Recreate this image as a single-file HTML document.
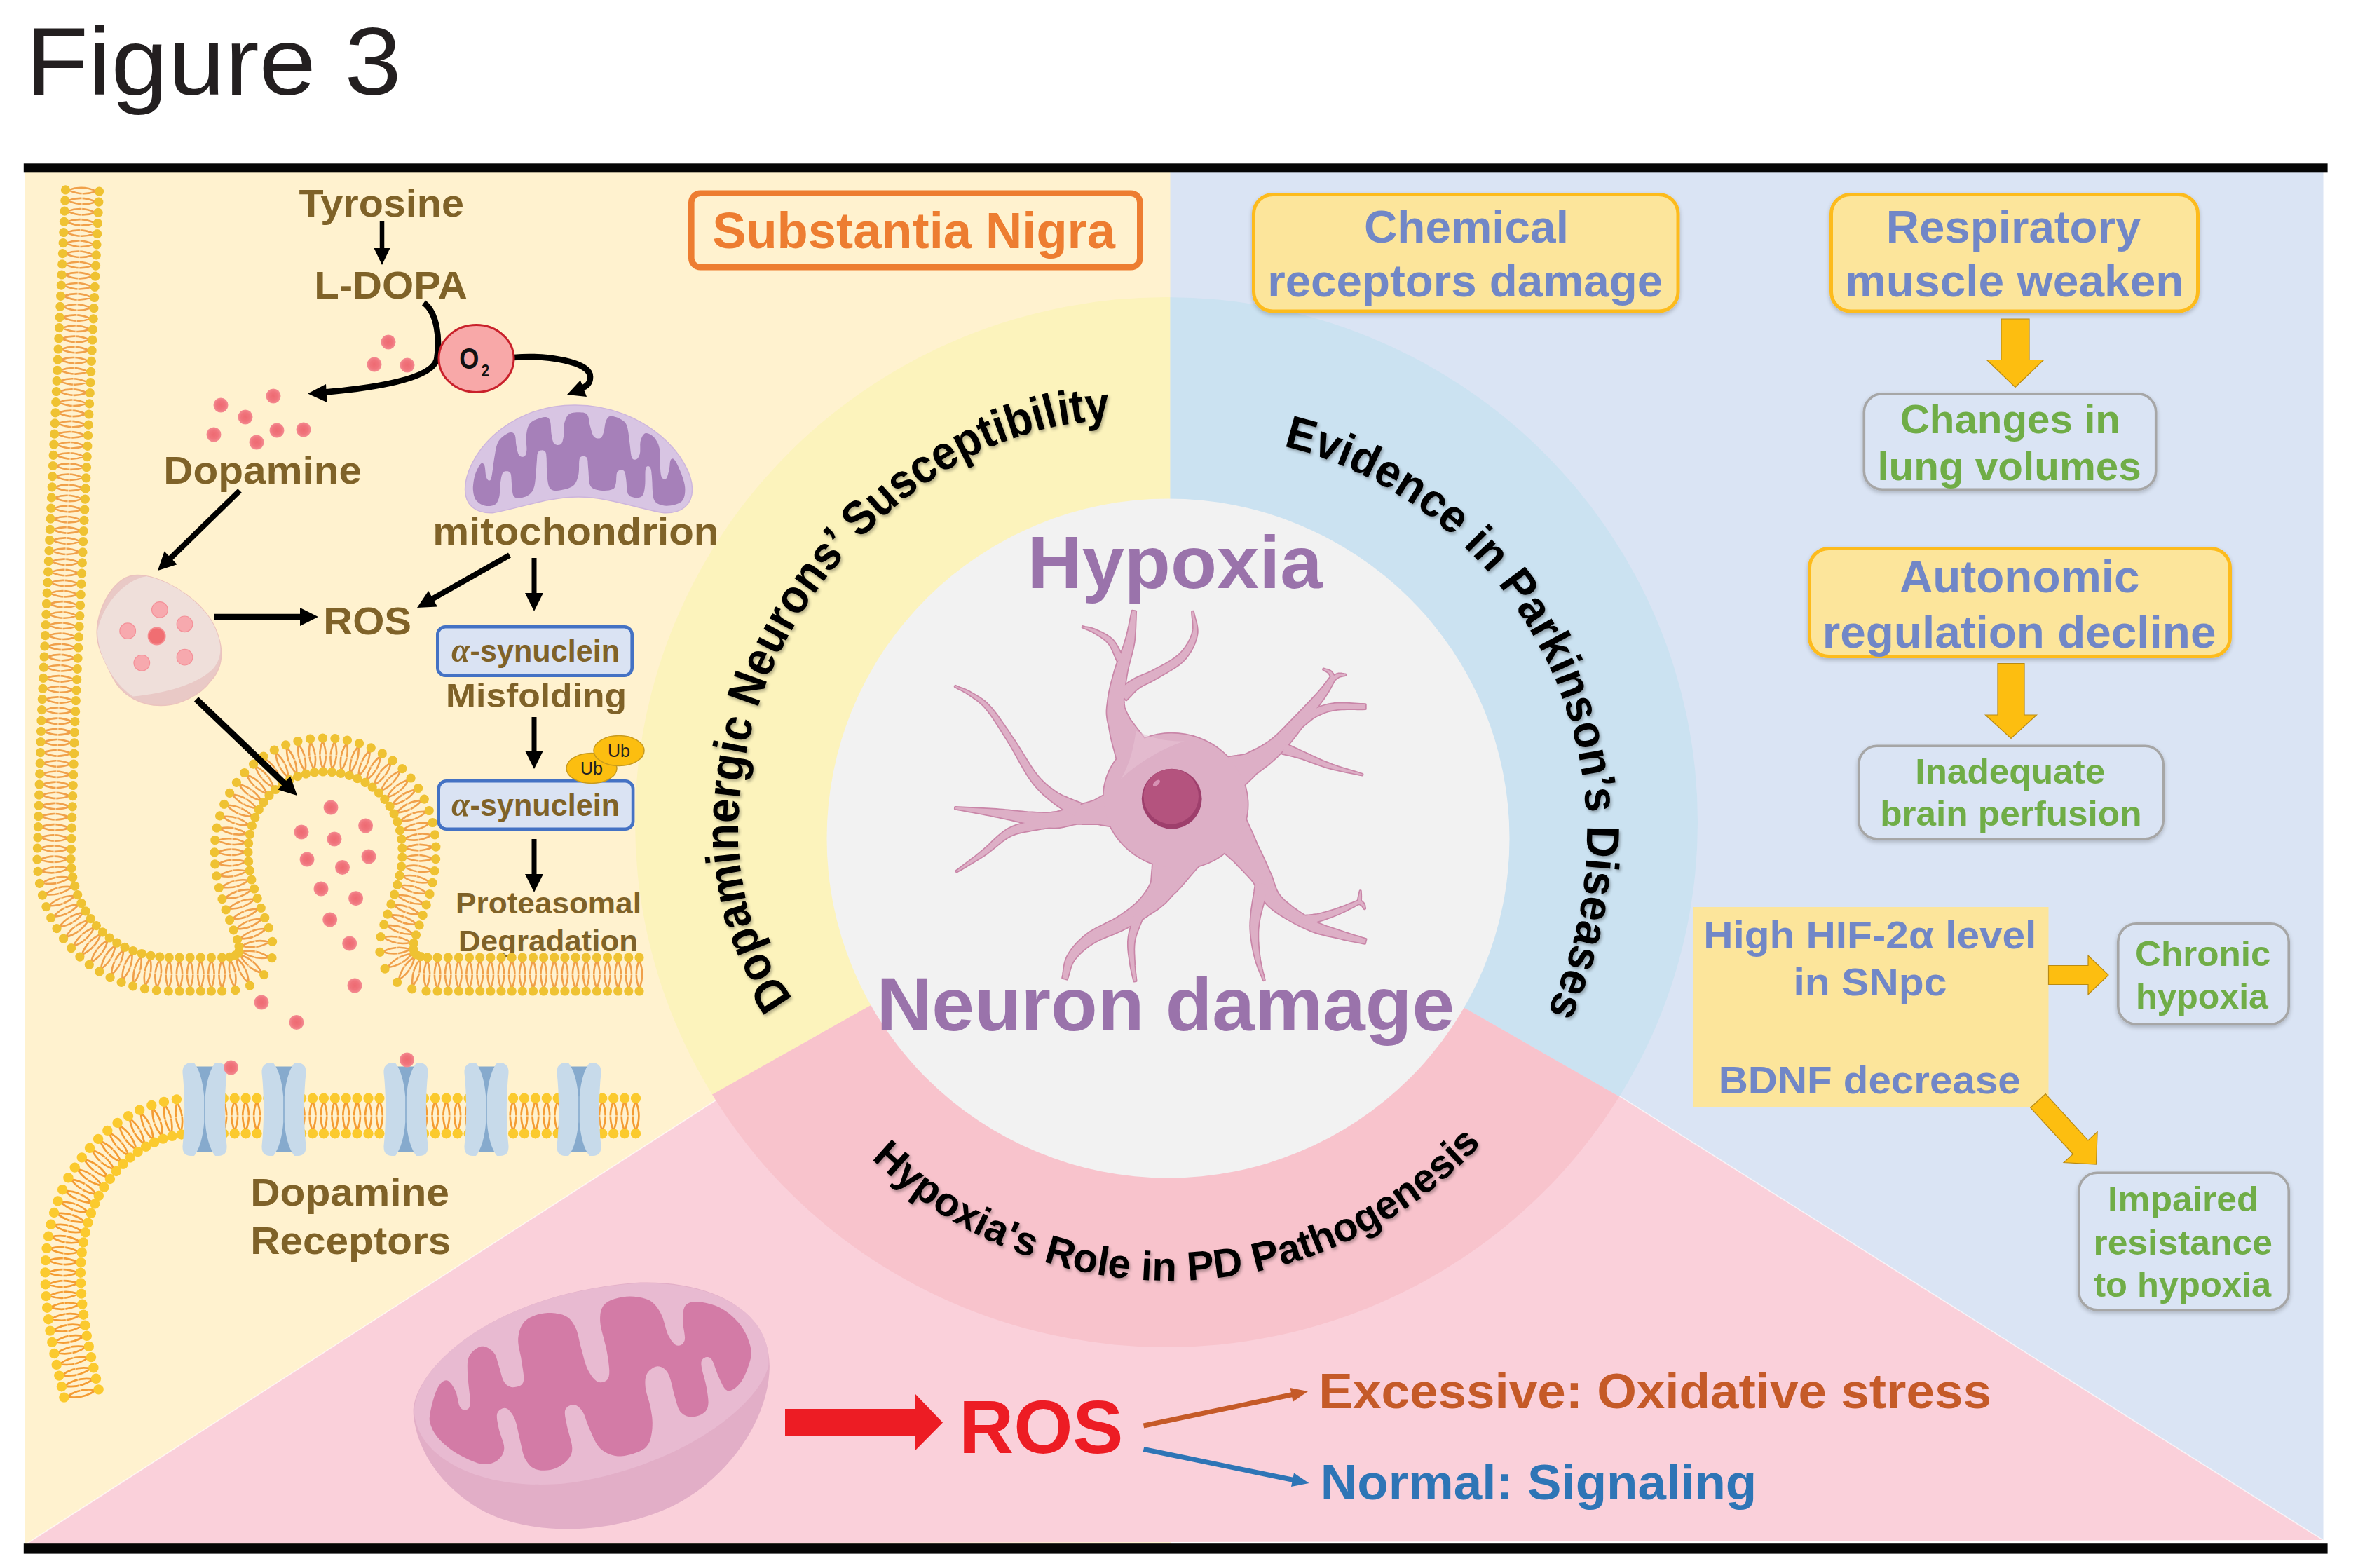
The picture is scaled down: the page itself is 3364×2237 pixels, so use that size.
<!DOCTYPE html>
<html><head><meta charset="utf-8"><title>Figure 3</title>
<style>html,body{margin:0;padding:0;background:#fff}svg{display:block}text{font-family:"Liberation Sans",sans-serif}</style>
</head><body>
<svg width="3364" height="2237" viewBox="0 0 3364 2237">
<rect x="36" y="240" width="1634" height="1963" fill="#FFF2CF"/>
<rect x="1669.5" y="240" width="1645" height="1957" fill="#DAE4F4"/>
<polygon points="1664,1156 37,2203 3314,2197" fill="#FAD0DA"/>
<path d="M37 2203L1664 1156L3314 2197" fill="none" stroke="#fff" stroke-opacity=".65" stroke-width="1.6"/>
<defs><clipPath id="ringclip"><ellipse cx="1664" cy="1173" rx="758" ry="749"/></clipPath></defs>
<g clip-path="url(#ringclip)">
<polygon points="1669.5,1196 1669.5,-500 -500,-500 -500,2413.7 1666,1196" fill="#FCF3BC"/>
<polygon points="1669.5,1196 1669.5,-500 4000,-500 4000,2531 1666,1196" fill="#CBE2F1"/>
<polygon points="1666,1196 -500,2413.7 -500,3000 4000,3000 4000,2531" fill="#F8C3CC"/>
</g>
<ellipse cx="1666.5" cy="1196" rx="487" ry="484.5" fill="#F2F2F2"/>
<rect x="33.8" y="233.3" width="3286.8" height="13" fill="#050505"/>
<rect x="33.8" y="2202.2" width="3286.8" height="14.4" fill="#050505"/>
<text x="36.8" y="134.7" font-size="138" fill="#231F20"  textLength="535.9" lengthAdjust="spacingAndGlyphs" >Figure 3</text>
<text x="426.4" y="309" font-size="55" fill="#7F6228" font-weight="bold" textLength="235.5" lengthAdjust="spacingAndGlyphs" >Tyrosine</text>
<text x="448.2" y="426" font-size="56" fill="#7F6228" font-weight="bold" textLength="218.5" lengthAdjust="spacingAndGlyphs" >L-DOPA</text>
<text x="233.2" y="690" font-size="56" fill="#7F6228" font-weight="bold" textLength="282.8" lengthAdjust="spacingAndGlyphs" >Dopamine</text>
<text x="617.2" y="777" font-size="56" fill="#7F6228" font-weight="bold" textLength="408.2" lengthAdjust="spacingAndGlyphs" >mitochondrion</text>
<text x="461.2" y="905" font-size="56" fill="#7F6228" font-weight="bold" textLength="125.9" lengthAdjust="spacingAndGlyphs" >ROS</text>
<text x="636.1" y="1009.4" font-size="48" fill="#7F6228" font-weight="bold" textLength="257.8" lengthAdjust="spacingAndGlyphs" >Misfolding</text>
<text x="650.1" y="1303" font-size="42" fill="#7F6228" font-weight="bold" textLength="264.8" lengthAdjust="spacingAndGlyphs" >Proteasomal</text>
<text x="654.1" y="1357" font-size="42" fill="#7F6228" font-weight="bold" textLength="255.9" lengthAdjust="spacingAndGlyphs" >Degradation</text>
<text x="357.2" y="1720" font-size="56" fill="#7F6228" font-weight="bold" textLength="283.8" lengthAdjust="spacingAndGlyphs" >Dopamine</text>
<text x="357.2" y="1789" font-size="56" fill="#7F6228" font-weight="bold" textLength="286.2" lengthAdjust="spacingAndGlyphs" >Receptors</text>
<text x="1016.2" y="354.1" font-size="72" fill="#ED7D31" font-weight="bold" textLength="574.8" lengthAdjust="spacingAndGlyphs" >Substantia Nigra</text>
<rect x="986.3" y="275.7" width="640" height="105.5" rx="13" fill="none" stroke="#ED7D31" stroke-width="8.6"/>
<defs><filter id="bs" x="-5%" y="-10%" width="110%" height="125%"><feGaussianBlur in="SourceAlpha" stdDeviation="3"/><feOffset dx="0" dy="3"/><feComponentTransfer><feFuncA type="linear" slope=".22"/></feComponentTransfer><feMerge><feMergeNode/><feMergeNode in="SourceGraphic"/></feMerge></filter></defs>
<rect x="1788.5" y="277.5" width="605.5" height="166.5" rx="27.5" fill="#FCE59B" stroke="#FDBB1E" stroke-width="5" filter="url(#bs)"/>
<rect x="2612.5" y="277.5" width="523" height="166.5" rx="27.5" fill="#FCE59B" stroke="#FDBB1E" stroke-width="5" filter="url(#bs)"/>
<rect x="2581.5" y="782.5" width="600" height="154" rx="27.5" fill="#FCE59B" stroke="#FDBB1E" stroke-width="5" filter="url(#bs)"/>
<rect x="2659.3" y="561.8" width="416.4" height="136.4" rx="26" fill="#DAE4F4" stroke="#A6A6A6" stroke-width="3.6" filter="url(#bs)"/>
<rect x="2651.8" y="1064.3" width="434.4" height="132.4" rx="26" fill="#DAE4F4" stroke="#A6A6A6" stroke-width="3.6" filter="url(#bs)"/>
<rect x="3021.8" y="1317.8" width="243.4" height="143.4" rx="26" fill="#DAE4F4" stroke="#A6A6A6" stroke-width="3.6" filter="url(#bs)"/>
<rect x="2965.8" y="1673.3" width="299.4" height="195.4" rx="26" fill="#DAE4F4" stroke="#A6A6A6" stroke-width="3.6" filter="url(#bs)"/>
<rect x="2415" y="1294" width="507.5" height="286" fill="#FCE59B"/>
<text x="1945.9" y="346" font-size="64" fill="#7187C7" font-weight="bold" textLength="292" lengthAdjust="spacingAndGlyphs" >Chemical</text>
<text x="1808.2" y="422.5" font-size="64" fill="#7187C7" font-weight="bold" textLength="564" lengthAdjust="spacingAndGlyphs" >receptors damage</text>
<text x="2690.7" y="346" font-size="64" fill="#7187C7" font-weight="bold" textLength="363.8" lengthAdjust="spacingAndGlyphs" >Respiratory</text>
<text x="2632.2" y="422.5" font-size="64" fill="#7187C7" font-weight="bold" textLength="483.4" lengthAdjust="spacingAndGlyphs" >muscle weaken</text>
<text x="2709.9" y="845" font-size="64" fill="#7187C7" font-weight="bold" textLength="342.7" lengthAdjust="spacingAndGlyphs" >Autonomic</text>
<text x="2599.7" y="923.5" font-size="64" fill="#7187C7" font-weight="bold" textLength="561.7" lengthAdjust="spacingAndGlyphs" >regulation decline</text>
<text x="2430.2" y="1352.5" font-size="56" fill="#7187C7" font-weight="bold" textLength="475.2" lengthAdjust="spacingAndGlyphs" >High HIF-2α level</text>
<text x="2558.4" y="1420" font-size="56" fill="#7187C7" font-weight="bold" textLength="219" lengthAdjust="spacingAndGlyphs" >in SNpc</text>
<text x="2451.7" y="1560" font-size="56" fill="#7187C7" font-weight="bold" textLength="431" lengthAdjust="spacingAndGlyphs" >BDNF decrease</text>
<text x="2710.7" y="617.5" font-size="57" fill="#70AD47" font-weight="bold" textLength="314.3" lengthAdjust="spacingAndGlyphs" >Changes in</text>
<text x="2678.4" y="685" font-size="57" fill="#70AD47" font-weight="bold" textLength="376.4" lengthAdjust="spacingAndGlyphs" >lung volumes</text>
<text x="2732.2" y="1117.5" font-size="50" fill="#70AD47" font-weight="bold" textLength="271.1" lengthAdjust="spacingAndGlyphs" >Inadequate</text>
<text x="2682.2" y="1177.5" font-size="50" fill="#70AD47" font-weight="bold" textLength="373.3" lengthAdjust="spacingAndGlyphs" >brain perfusion</text>
<text x="3045.9" y="1377.5" font-size="50" fill="#70AD47" font-weight="bold" textLength="193.7" lengthAdjust="spacingAndGlyphs" >Chronic</text>
<text x="3047" y="1438.5" font-size="50" fill="#70AD47" font-weight="bold" textLength="188.9" lengthAdjust="spacingAndGlyphs" >hypoxia</text>
<text x="3007.1" y="1727.5" font-size="50" fill="#70AD47" font-weight="bold" textLength="215.4" lengthAdjust="spacingAndGlyphs" >Impaired</text>
<text x="2986.6" y="1789.6" font-size="50" fill="#70AD47" font-weight="bold" textLength="255.3" lengthAdjust="spacingAndGlyphs" >resistance</text>
<text x="2987.2" y="1849.5" font-size="50" fill="#70AD47" font-weight="bold" textLength="252.9" lengthAdjust="spacingAndGlyphs" >to hypoxia</text>
<text x="1368" y="2072.5" font-size="107" fill="#ED1C24" font-weight="bold" textLength="234.5" lengthAdjust="spacingAndGlyphs" >ROS</text>
<text x="1881.3" y="2009" font-size="70" fill="#C55A28" font-weight="bold" textLength="959.7" lengthAdjust="spacingAndGlyphs" >Excessive: Oxidative stress</text>
<text x="1883.8" y="2138.5" font-size="70" fill="#2E75B6" font-weight="bold" textLength="622.5" lengthAdjust="spacingAndGlyphs" >Normal: Signaling</text>
<path d="M97.5 271.1Q117.1 280.4 137.5 272.9M97.5 271.1Q117.9 263.6 137.5 272.9M96.8 286.2Q116.4 295.5 136.8 288.1M96.8 286.2Q117.2 278.7 136.8 288.1M96.1 301.4Q115.7 310.7 136.1 303.2M96.1 301.4Q116.5 293.9 136.1 303.2M95.4 316.5Q115 325.8 135.4 318.3M95.4 316.5Q115.8 309 135.4 318.3M94.8 331.6Q114.3 340.9 134.7 333.5M94.8 331.6Q115.1 324.2 134.7 333.5M94.1 346.8Q113.7 356.1 134 348.6M94.1 346.8Q114.4 339.3 134 348.6M93.4 361.9Q113 371.2 133.3 363.7M93.4 361.9Q113.7 354.4 133.3 363.7M92.7 377.1Q112.3 386.4 132.6 378.9M92.7 377.1Q113 369.6 132.6 378.9M92 392.2Q111.6 401.5 131.9 394M92 392.2Q112.3 384.7 131.9 394M91.3 407.3Q110.9 416.6 131.3 409.2M91.3 407.3Q111.7 399.9 131.3 409.2M90.6 422.5Q110.2 431.8 130.6 424.3M90.6 422.5Q111 415 130.6 424.3M89.9 437.6Q109.5 446.9 129.9 439.4M89.9 437.6Q110.3 430.1 129.9 439.4M89.2 452.7Q108.8 462.1 129.2 454.6M89.2 452.7Q109.6 445.3 129.2 454.6M88.5 467.9Q108.1 477.2 128.5 469.7M88.5 467.9Q108.9 460.4 128.5 469.7M87.8 483Q107.4 492.3 127.8 484.8M87.8 483Q108.2 475.5 127.8 484.8M87.1 498.2Q106.7 507.5 127.1 500M87.1 498.2Q107.5 490.7 127.1 500M86.5 513.3Q106 522.6 126.4 515.1M86.5 513.3Q106.8 505.8 126.4 515.1M85.8 528.4Q105.4 537.7 125.7 530.3M85.8 528.4Q106.1 521 125.7 530.3M85.1 543.6Q104.7 552.9 125 545.4M85.1 543.6Q105.4 536.1 125 545.4M84.4 558.7Q104 568 124.3 560.5M84.4 558.7Q104.7 551.2 124.3 560.5M83.7 573.9Q103.3 583.2 123.6 575.7M83.7 573.9Q104 566.4 123.6 575.7M83 589Q102.6 598.3 123 590.8M83 589Q103.4 581.5 123 590.8M82.3 604.1Q101.9 613.4 122.3 606M82.3 604.1Q102.7 596.7 122.3 606M81.6 619.3Q101.2 628.6 121.6 621.1M81.6 619.3Q102 611.8 121.6 621.1M80.9 634.4Q100.5 643.7 120.9 636.2M80.9 634.4Q101.3 626.9 120.9 636.2M80.2 649.5Q99.8 658.8 120.2 651.4M80.2 649.5Q100.6 642.1 120.2 651.4M79.5 664.7Q99.1 674 119.5 666.5M79.5 664.7Q99.9 657.2 119.5 666.5M78.8 679.8Q98.4 689.1 118.8 681.6M78.8 679.8Q99.2 672.3 118.8 681.6M78.2 695Q97.7 704.3 118.1 696.8M78.2 695Q98.5 687.5 118.1 696.8M77.5 710.1Q97.1 719.4 117.4 711.9M77.5 710.1Q97.8 702.6 117.4 711.9M76.8 725.2Q96.4 734.5 116.7 727.1M76.8 725.2Q97.1 717.8 116.7 727.1M76.1 740.4Q95.7 749.7 116 742.2M76.1 740.4Q96.4 732.9 116 742.2M75.4 755.5Q95 764.8 115.3 757.3M75.4 755.5Q95.7 748 115.3 757.3M74.7 770.7Q94.3 780 114.7 772.5M74.7 770.7Q95.1 763.2 114.7 772.5M74 785.8Q93.6 795.1 114 787.6M74 785.8Q94.4 778.3 114 787.6M73.3 800.9Q92.9 810.2 113.3 802.8M73.3 800.9Q93.7 793.4 113.3 802.8M72.6 816.1Q92.2 825.4 112.6 817.9M72.6 816.1Q93 808.6 112.6 817.9M71.9 831.2Q91.5 840.5 111.9 833M71.9 831.2Q92.3 823.7 111.9 833M71.2 846.3Q90.8 855.6 111.2 848.2M71.2 846.3Q91.6 838.9 111.2 848.2M70.5 861.5Q90.1 870.8 110.5 863.3M70.5 861.5Q90.9 854 110.5 863.3M69.9 876.6Q89.4 885.9 109.8 878.4M69.9 876.6Q90.2 869.1 109.8 878.4M69.2 891.8Q88.8 901.1 109.1 893.6M69.2 891.8Q89.5 884.3 109.1 893.6M68.5 906.9Q88.1 916.2 108.4 908.7M68.5 906.9Q88.8 899.4 108.4 908.7M67.8 922Q87.4 931.3 107.7 923.9M67.8 922Q88.1 914.6 107.7 923.9M67.1 937.2Q86.7 946.5 107 939M67.1 937.2Q87.4 929.7 107 939M66.4 952.3Q86 961.6 106.4 954.1M66.4 952.3Q86.8 944.8 106.4 954.1M65.7 967.4Q85.3 976.8 105.7 969.3M65.7 967.4Q86.1 960 105.7 969.3M65 982.6Q84.6 991.9 105 984.4M65 982.6Q85.4 975.1 105 984.4M64.3 997.7Q83.9 1007 104.3 999.6M64.3 997.7Q84.7 990.2 104.3 999.6M63.6 1012.9Q83.2 1022.2 103.6 1014.7M63.6 1012.9Q84 1005.4 103.6 1014.7M63 1028.3Q82.7 1037.3 102.9 1029.5M63 1028.3Q83.2 1020.5 102.9 1029.5M62.5 1043.5Q82.2 1052.5 102.5 1044.7M62.5 1043.5Q82.7 1035.7 102.5 1044.7M62 1058.6Q81.8 1067.6 102 1059.8M62 1058.6Q82.3 1050.8 102 1059.8M61.6 1073.8Q81.3 1082.8 101.6 1075M61.6 1073.8Q81.8 1066 101.6 1075M61.1 1088.9Q80.9 1097.9 101.1 1090.1M61.1 1088.9Q81.4 1081.1 101.1 1090.1M60.7 1104Q80.4 1113 100.6 1105.3M60.7 1104Q80.9 1096.3 100.6 1105.3M60.2 1119.2Q79.9 1128.2 100.2 1120.4M60.2 1119.2Q80.4 1111.4 100.2 1120.4M59.7 1134.3Q79.5 1143.3 99.7 1135.6M59.7 1134.3Q80 1126.6 99.7 1135.6M59.3 1149.5Q79 1158.5 99.3 1150.7M59.3 1149.5Q79.5 1141.7 99.3 1150.7M58.8 1164.6Q78.6 1173.6 98.8 1165.8M58.8 1164.6Q79.1 1156.8 98.8 1165.8M58.4 1179.8Q78.1 1188.8 98.3 1181M58.4 1179.8Q78.6 1172 98.3 1181M57.9 1194.9Q77.6 1203.9 97.9 1196.1M57.9 1194.9Q78.1 1187.1 97.9 1196.1M57.4 1210.1Q77.2 1219.1 97.4 1211.3M57.4 1210.1Q77.7 1202.3 97.4 1211.3M57 1226.1Q77.1 1234.2 97 1225.6M57 1226.1Q76.9 1217.4 97 1225.6M58 1243Q78.8 1249.3 97.8 1238.9M58 1243Q77.1 1232.6 97.8 1238.9M60.4 1259.7Q81.7 1264.2 99.7 1252.2M60.4 1259.7Q78.5 1247.7 99.7 1252.2M64.3 1276.1Q85.8 1278.8 102.8 1265.3M64.3 1276.1Q81.3 1262.6 102.8 1265.3M69.6 1292.2Q91.3 1292.9 107 1278M69.6 1292.2Q85.3 1277.2 107 1278M76.3 1307.7Q98 1306.5 112.3 1290.3M76.3 1307.7Q90.6 1291.4 112.3 1290.3M84.4 1322.6Q105.9 1319.5 118.7 1302M84.4 1322.6Q97.2 1305.1 118.7 1302M93.8 1336.8Q114.9 1331.7 126 1313M93.8 1336.8Q105 1318.1 126 1313M104.6 1350Q125.1 1342.9 134.4 1323.3M104.6 1350Q113.9 1330.4 134.4 1323.3M116.6 1362.1Q136.3 1353.1 143.7 1332.7M116.6 1362.1Q124 1341.7 143.7 1332.7M129.7 1373.1Q148.5 1362.2 153.8 1341.2M129.7 1373.1Q135.1 1352.1 153.8 1341.2M143.8 1382.7Q161.4 1370.1 164.7 1348.6M143.8 1382.7Q147.1 1361.3 164.7 1348.6M158.8 1390.9Q175.1 1376.6 176.3 1355M158.8 1390.9Q160 1369.3 176.3 1355M174.5 1397.7Q189.4 1381.9 188.5 1360.2M174.5 1397.7Q173.6 1376 188.5 1360.2M190.6 1402.9Q204 1385.8 201.2 1364.3M190.6 1402.9Q187.8 1381.4 201.2 1364.3M207.1 1406.6Q218.9 1388.5 214.2 1367.3M207.1 1406.6Q202.4 1385.5 214.2 1367.3M223.7 1409Q234 1389.9 227.6 1369.2M223.7 1409Q217.3 1388.2 227.6 1369.2M240.4 1409.9Q249.2 1390.1 241.2 1370M240.4 1409.9Q232.4 1389.8 241.2 1370M256 1410Q264.4 1390 256 1370M256 1410Q247.6 1390 256 1370M271.1 1410Q279.5 1390 271.1 1370M271.1 1410Q262.7 1390 271.1 1370M286.3 1410Q294.7 1390 286.3 1370M286.3 1410Q277.9 1390 286.3 1370M301.4 1410Q309.8 1390 301.4 1370M301.4 1410Q293 1390 301.4 1370M316.6 1410Q325 1390 316.6 1370M316.6 1410Q308.2 1390 316.6 1370M335 1408.6Q339.9 1387.5 328.3 1369.2M335 1408.6Q323.4 1390.3 328.3 1369.2M354.8 1402.5Q353.7 1380.9 337.5 1366.5M354.8 1402.5Q338.5 1388.1 337.5 1366.5M373.5 1388.2Q363.5 1368.9 342.7 1362.6M373.5 1388.2Q352.7 1381.9 342.7 1362.6M384.1 1365.9Q366.2 1353.6 344.9 1357.8M384.1 1365.9Q362.8 1370.1 344.9 1357.8M384.6 1344Q363.6 1338.5 345 1349.6M384.6 1344Q366 1355.1 345 1349.6M379.6 1325Q357.9 1324.3 342.2 1339.3M379.6 1325Q363.9 1340 342.2 1339.3M374.1 1310.7Q352.4 1310.2 336.8 1325.3M374.1 1310.7Q358.5 1325.9 336.8 1325.3M368.6 1296.7Q346.9 1296.1 331.3 1311.1M368.6 1296.7Q353 1311.7 331.3 1311.1M363.4 1282.9Q341.8 1281.8 325.8 1296.5M363.4 1282.9Q347.5 1297.6 325.8 1296.5M358.8 1269.4Q337.2 1267.4 320.7 1281.4M358.8 1269.4Q342.3 1283.4 320.7 1281.4M355 1256Q333.6 1252.6 316.2 1265.6M355 1256Q337.6 1269 316.2 1265.6M352.3 1242.7Q331.1 1237.7 312.8 1249.3M352.3 1242.7Q333.9 1254.2 312.8 1249.3M350.6 1229.3Q330 1222.6 310.7 1232.6M350.6 1229.3Q331.4 1239.3 310.7 1232.6M350 1215.7Q330 1207.4 310 1215.9M350 1215.7Q330 1224.2 310 1215.9M350.6 1202.5Q331.4 1192.3 310.7 1198.8M350.6 1202.5Q329.9 1209 310.7 1198.8M352.4 1189.5Q334.4 1177.4 313.2 1181.8M352.4 1189.5Q331.2 1193.9 313.2 1181.8M355.6 1176.9Q339 1162.9 317.4 1165.1M355.6 1176.9Q334 1179 317.4 1165.1M360.1 1164.7Q345.1 1149.1 323.4 1148.8M360.1 1164.7Q338.4 1164.5 323.4 1148.8M365.9 1153.1Q352.6 1135.9 331.1 1133.3M365.9 1153.1Q344.3 1150.5 331.1 1133.3M372.9 1142.3Q361.7 1123.7 340.6 1118.7M372.9 1142.3Q351.8 1137.3 340.6 1118.7M381 1132.4Q372 1112.6 351.6 1105.2M381 1132.4Q360.6 1125 351.6 1105.2M390.3 1123.5Q383.6 1102.8 364.2 1093.1M390.3 1123.5Q370.9 1113.8 364.2 1093.1M400.5 1115.7Q396.3 1094.4 378.1 1082.5M400.5 1115.7Q382.3 1103.8 378.1 1082.5M411.5 1109.2Q409.8 1087.5 393.2 1073.6M411.5 1109.2Q394.8 1095.2 393.2 1073.6M423.2 1104Q424 1082.3 409.1 1066.5M423.2 1104Q408.3 1088.2 409.1 1066.5M435.4 1100.2Q438.8 1078.8 425.9 1061.4M435.4 1100.2Q422.5 1082.8 425.9 1061.4M448 1097.9Q453.9 1077 443 1058.2M448 1097.9Q437.2 1079.1 443 1058.2M460.8 1097Q469 1076.9 460.4 1057M460.8 1097Q452.2 1077.1 460.4 1057M474 1097.5Q484.1 1078.4 477.6 1057.7M474 1097.5Q467.4 1076.9 477.6 1057.7M486.9 1099.4Q499 1081.4 494.6 1060.1M486.9 1099.4Q482.5 1078.1 494.6 1060.1M499.5 1102.6Q513.5 1086 511.4 1064.4M499.5 1102.6Q497.4 1081 511.4 1064.4M511.6 1107.1Q527.3 1092.2 527.7 1070.5M511.6 1107.1Q512 1085.4 527.7 1070.5M523 1112.9Q540.4 1099.9 543.2 1078.4M523 1112.9Q525.9 1091.4 543.2 1078.4M533.6 1120.1Q552.4 1109.2 557.8 1088.2M533.6 1120.1Q539 1099 557.8 1088.2M543.3 1128.4Q563.2 1119.8 571.1 1099.6M543.3 1128.4Q551.2 1108.1 571.1 1099.6M551.9 1137.8Q572.8 1131.6 583 1112.5M551.9 1137.8Q562.1 1118.6 583 1112.5M559.5 1148.2Q580.8 1144.5 593.2 1126.6M559.5 1148.2Q571.8 1130.3 593.2 1126.6M565.7 1159.4Q587.4 1158.2 601.7 1141.9M565.7 1159.4Q580 1143.1 601.7 1141.9M570.7 1171.3Q592.4 1172.5 608.4 1157.9M570.7 1171.3Q586.8 1156.7 608.4 1157.9M574.4 1183.8Q595.8 1187.3 613.3 1174.5M574.4 1183.8Q591.9 1170.9 613.3 1174.5M576.8 1196.7Q597.7 1202.3 616.4 1191.4M576.8 1196.7Q595.5 1185.7 616.4 1191.4M577.9 1209.8Q598.2 1217.5 617.9 1208.4M577.9 1209.8Q597.6 1200.7 617.9 1208.4M577.8 1223.2Q597.3 1232.6 617.7 1225.3M577.8 1223.2Q598.2 1215.9 617.7 1225.3M576.5 1236.5Q595.1 1247.6 616.1 1242.1M576.5 1236.5Q597.4 1231 616.1 1242.1M574 1250Q591.8 1262.4 613.1 1258.5M574 1250Q595.4 1246 613.1 1258.5M570.6 1263.5Q587.6 1277 609.1 1274.4M570.6 1263.5Q592.1 1260.8 609.1 1274.4M566.4 1277.2Q582.8 1291.4 604.4 1289.6M566.4 1277.2Q588 1275.4 604.4 1289.6M561.7 1291.2Q577.8 1305.7 599.4 1304.4M561.7 1291.2Q583.3 1289.8 599.4 1304.4M556.6 1305.5Q572.8 1320 594.4 1318.6M556.6 1305.5Q578.3 1304.1 594.4 1318.6M551.7 1320.3Q568.1 1334.4 589.7 1332.6M551.7 1320.3Q573.3 1318.4 589.7 1332.6M547 1337.3Q565.1 1349.3 586.3 1344.7M547 1337.3Q568.2 1332.8 586.3 1344.7M545.8 1357.9Q566.5 1364.5 585.7 1354.3M545.8 1357.9Q565 1347.7 585.7 1354.3M552.6 1380.3Q574.1 1377.8 587.5 1360.8M552.6 1380.3Q566 1363.2 587.5 1360.8M568.8 1398Q587.1 1386.4 591.6 1365.1M568.8 1398Q573.3 1376.8 591.6 1365.1M588.7 1407.1Q602.1 1390 599.2 1368.5M588.7 1407.1Q585.8 1385.6 599.2 1368.5M608.2 1409.9Q617.3 1390.3 609.7 1370M608.2 1409.9Q600.5 1389.6 609.7 1370M624.1 1410Q632.5 1390 624.1 1370M624.1 1410Q615.7 1390 624.1 1370M639.2 1410Q647.6 1390 639.2 1370M639.2 1410Q630.8 1390 639.2 1370M654.4 1410Q662.8 1390 654.4 1370M654.4 1410Q646 1390 654.4 1370M669.5 1410Q677.9 1390 669.5 1370M669.5 1410Q661.1 1390 669.5 1370M684.7 1410Q693.1 1390 684.7 1370M684.7 1410Q676.3 1390 684.7 1370M699.8 1410Q708.2 1390 699.8 1370M699.8 1410Q691.4 1390 699.8 1370M715 1410Q723.4 1390 715 1370M715 1410Q706.6 1390 715 1370M730.2 1410Q738.6 1390 730.2 1370M730.2 1410Q721.8 1390 730.2 1370M745.3 1410Q753.7 1390 745.3 1370M745.3 1410Q736.9 1390 745.3 1370M760.5 1410Q768.9 1390 760.5 1370M760.5 1410Q752.1 1390 760.5 1370M775.6 1410Q784 1390 775.6 1370M775.6 1410Q767.2 1390 775.6 1370M790.8 1410Q799.2 1390 790.8 1370M790.8 1410Q782.4 1390 790.8 1370M805.9 1410Q814.3 1390 805.9 1370M805.9 1410Q797.5 1390 805.9 1370M821.1 1410Q829.5 1390 821.1 1370M821.1 1410Q812.7 1390 821.1 1370M836.2 1410Q844.6 1390 836.2 1370M836.2 1410Q827.8 1390 836.2 1370M851.4 1410Q859.8 1390 851.4 1370M851.4 1410Q843 1390 851.4 1370M866.5 1410Q874.9 1390 866.5 1370M866.5 1410Q858.1 1390 866.5 1370M881.7 1410Q890.1 1390 881.7 1370M881.7 1410Q873.3 1390 881.7 1370M896.8 1410Q905.2 1390 896.8 1370M896.8 1410Q888.4 1390 896.8 1370M912 1410Q920.4 1390 912 1370M912 1410Q903.6 1390 912 1370" fill="none" stroke="#F0A04A" stroke-width="2.6"/>
<path d="M117.5 272L116.8 287.1L116.1 302.3L115.4 317.4L114.7 332.6L114 347.7L113.3 362.8L112.7 378L112 393.1L111.3 408.2L110.6 423.4L109.9 438.5L109.2 453.7L108.5 468.8L107.8 483.9L107.1 499.1L106.4 514.2L105.7 529.4L105 544.5L104.4 559.6L103.7 574.8L103 589.9L102.3 605L101.6 620.2L100.9 635.3L100.2 650.5L99.5 665.6L98.8 680.7L98.1 695.9L97.4 711L96.7 726.1L96.1 741.3L95.4 756.4L94.7 771.6L94 786.7L93.3 801.8L92.6 817L91.9 832.1L91.2 847.3L90.5 862.4L89.8 877.5L89.1 892.7L88.4 907.8L87.8 922.9L87.1 938.1L86.4 953.2L85.7 968.4L85 983.5L84.3 998.6L83.6 1013.8L82.9 1028.9L82.5 1044.1L82 1059.2L81.6 1074.4L81.1 1089.5L80.6 1104.7L80.2 1119.8L79.7 1134.9L79.3 1150.1L78.8 1165.2L78.4 1180.4L77.9 1195.5L77.4 1210.7L77 1225.8L77.9 1241L80.1 1255.9L83.6 1270.7L88.3 1285.1L94.3 1299L101.5 1312.3L109.9 1324.9L119.5 1336.7L130.1 1347.4L141.8 1357.1L154.3 1365.7L167.6 1373L181.5 1378.9L195.9 1383.6L210.7 1387L225.7 1389.1L240.8 1390L256 1390L271.1 1390L286.3 1390L301.4 1390L316.6 1390L331.7 1388.9L346.1 1384.5L358.1 1375.4L364.5 1361.9L364.8 1346.8L360.9 1332.2L355.5 1318L350 1303.9L344.6 1289.7L339.7 1275.4L335.6 1260.8L332.5 1246L330.7 1230.9L330 1215.8L330.7 1200.7L332.8 1185.7L336.5 1171L341.7 1156.8L348.5 1143.2L356.7 1130.5L366.3 1118.8L377.2 1108.3L389.3 1099.1L402.3 1091.4L416.2 1085.3L430.6 1080.8L445.5 1078L460.6 1077L475.8 1077.6L490.8 1079.8L505.5 1083.5L519.6 1088.8L533.1 1095.7L545.7 1104.1L557.2 1114L567.5 1125.1L576.3 1137.4L583.7 1150.6L589.6 1164.6L593.9 1179.1L596.6 1194L597.9 1209.1L597.7 1224.3L596.3 1239.3L593.6 1254.2L589.9 1268.9L585.4 1283.4L580.5 1297.8L575.5 1312.1L570.7 1326.4L566.6 1341L565.8 1356.1L570 1370.5L580.2 1381.6L594 1387.8L608.9 1389.9L624.1 1390L639.2 1390L654.4 1390L669.5 1390L684.7 1390L699.8 1390L715 1390L730.2 1390L745.3 1390L760.5 1390L775.6 1390L790.8 1390L805.9 1390L821.1 1390L836.2 1390L851.4 1390L866.5 1390L881.7 1390L896.8 1390L912 1390" fill="none" stroke="#FFF2CF" stroke-opacity=".55" stroke-width="2"/>
<path d="M93.5 270.9h.01M141.5 273.1h.01M92.8 286h.01M140.8 288.2h.01M92.1 301.2h.01M140.1 303.4h.01M91.4 316.3h.01M139.4 318.5h.01M90.8 331.5h.01M138.7 333.6h.01M90.1 346.6h.01M138 348.8h.01M89.4 361.7h.01M137.3 363.9h.01M88.7 376.9h.01M136.6 379.1h.01M88 392h.01M135.9 394.2h.01M87.3 407.1h.01M135.2 409.3h.01M86.6 422.3h.01M134.6 424.5h.01M85.9 437.4h.01M133.9 439.6h.01M85.2 452.6h.01M133.2 454.8h.01M84.5 467.7h.01M132.5 469.9h.01M83.8 482.8h.01M131.8 485h.01M83.1 498h.01M131.1 500.2h.01M82.5 513.1h.01M130.4 515.3h.01M81.8 528.3h.01M129.7 530.4h.01M81.1 543.4h.01M129 545.6h.01M80.4 558.5h.01M128.3 560.7h.01M79.7 573.7h.01M127.6 575.9h.01M79 588.8h.01M126.9 591h.01M78.3 603.9h.01M126.3 606.1h.01M77.6 619.1h.01M125.6 621.3h.01M76.9 634.2h.01M124.9 636.4h.01M76.2 649.4h.01M124.2 651.6h.01M75.5 664.5h.01M123.5 666.7h.01M74.8 679.6h.01M122.8 681.8h.01M74.2 694.8h.01M122.1 697h.01M73.5 709.9h.01M121.4 712.1h.01M72.8 725.1h.01M120.7 727.2h.01M72.1 740.2h.01M120 742.4h.01M71.4 755.3h.01M119.3 757.5h.01M70.7 770.5h.01M118.6 772.7h.01M70 785.6h.01M118 787.8h.01M69.3 800.7h.01M117.3 802.9h.01M68.6 815.9h.01M116.6 818.1h.01M67.9 831h.01M115.9 833.2h.01M67.2 846.2h.01M115.2 848.4h.01M66.5 861.3h.01M114.5 863.5h.01M65.9 876.4h.01M113.8 878.6h.01M65.2 891.6h.01M113.1 893.8h.01M64.5 906.7h.01M112.4 908.9h.01M63.8 921.9h.01M111.7 924h.01M63.1 937h.01M111 939.2h.01M62.4 952.1h.01M110.3 954.3h.01M61.7 967.3h.01M109.7 969.5h.01M61 982.4h.01M109 984.6h.01M60.3 997.5h.01M108.3 999.7h.01M59.6 1012.7h.01M107.6 1014.9h.01M59 1028.2h.01M106.9 1029.6h.01M58.5 1043.3h.01M106.5 1044.8h.01M58 1058.5h.01M106 1059.9h.01M57.6 1073.6h.01M105.6 1075.1h.01M57.1 1088.8h.01M105.1 1090.2h.01M56.7 1103.9h.01M104.6 1105.4h.01M56.2 1119.1h.01M104.2 1120.5h.01M55.7 1134.2h.01M103.7 1135.7h.01M55.3 1149.4h.01M103.3 1150.8h.01M54.8 1164.5h.01M102.8 1166h.01M54.4 1179.7h.01M102.3 1181.1h.01M53.9 1194.8h.01M101.9 1196.3h.01M53.4 1210h.01M101.4 1211.4h.01M53 1226.2h.01M101 1225.5h.01M54 1243.4h.01M101.8 1238.5h.01M56.5 1260.4h.01M103.7 1251.5h.01M60.5 1277.2h.01M106.7 1264.2h.01M65.9 1293.6h.01M110.7 1276.6h.01M72.7 1309.5h.01M115.9 1288.5h.01M81 1324.7h.01M122.1 1299.9h.01M90.6 1339.1h.01M129.3 1310.7h.01M101.6 1352.7h.01M137.4 1320.6h.01M113.9 1365.1h.01M146.4 1329.8h.01M127.3 1376.3h.01M156.2 1338h.01M141.7 1386.1h.01M166.8 1345.2h.01M157.1 1394.5h.01M178.1 1351.4h.01M173.1 1401.4h.01M189.9 1356.5h.01M189.6 1406.8h.01M202.2 1360.5h.01M206.4 1410.6h.01M215 1363.4h.01M223.3 1412.9h.01M228 1365.2h.01M240.3 1413.9h.01M241.3 1366h.01M256 1414h.01M256 1366h.01M271.1 1414h.01M271.1 1366h.01M286.3 1414h.01M286.3 1366h.01M301.4 1414h.01M301.4 1366h.01M316.6 1414h.01M316.6 1366h.01M335.7 1412.6h.01M327.7 1365.3h.01M356.5 1406.1h.01M335.7 1362.9h.01M376.6 1390.7h.01M339.6 1360.1h.01M388 1366.7h.01M341 1357h.01M388.6 1343.4h.01M341 1350.1h.01M383.4 1323.6h.01M338.5 1340.7h.01M377.8 1309.3h.01M333.1 1326.8h.01M372.3 1295.3h.01M327.6 1312.6h.01M367.2 1281.6h.01M322.1 1297.9h.01M362.6 1268.2h.01M316.9 1282.6h.01M358.9 1255h.01M312.3 1266.6h.01M356.2 1242h.01M308.9 1249.9h.01M354.6 1228.9h.01M306.7 1232.9h.01M354 1215.7h.01M306 1215.9h.01M354.6 1202.9h.01M306.8 1198.5h.01M356.4 1190.3h.01M309.3 1181.1h.01M359.4 1178h.01M313.6 1163.9h.01M363.8 1166.3h.01M319.7 1147.3h.01M369.3 1155.1h.01M327.6 1131.3h.01M376.1 1144.7h.01M337.4 1116.3h.01M384 1135.1h.01M348.7 1102.5h.01M392.9 1126.5h.01M361.6 1090.1h.01M402.7 1119h.01M375.9 1079.2h.01M413.3 1112.7h.01M391.3 1070h.01M424.6 1107.7h.01M407.7 1062.8h.01M436.4 1104.1h.01M424.9 1057.5h.01M448.5 1101.8h.01M442.5 1054.2h.01M460.9 1101h.01M460.4 1053h.01M473.6 1101.5h.01M477.9 1053.7h.01M486.1 1103.3h.01M495.4 1056.2h.01M498.3 1106.4h.01M512.6 1060.6h.01M509.9 1110.7h.01M529.3 1066.8h.01M521 1116.4h.01M545.3 1075h.01M531.2 1123.2h.01M560.2 1085h.01M540.5 1131.2h.01M573.9 1096.7h.01M548.8 1140.3h.01M586.1 1110h.01M556.1 1150.3h.01M596.6 1124.5h.01M562.1 1161.1h.01M605.3 1140.1h.01M567 1172.6h.01M612.2 1156.5h.01M570.5 1184.7h.01M617.2 1173.5h.01M572.8 1197.2h.01M620.4 1190.8h.01M573.9 1210h.01M621.9 1208.2h.01M573.8 1222.9h.01M621.7 1225.6h.01M572.5 1236h.01M620 1242.7h.01M570.1 1249.1h.01M617 1259.4h.01M566.8 1262.4h.01M613 1275.5h.01M562.6 1276h.01M608.2 1290.9h.01M557.9 1289.9h.01M603.2 1305.7h.01M552.9 1304.2h.01M598.2 1319.9h.01M547.8 1319h.01M593.5 1333.8h.01M543 1336.6h.01M590.2 1345.4h.01M541.9 1358.3h.01M589.7 1353.9h.01M549.1 1382.2h.01M591 1358.8h.01M566.6 1401.3h.01M593.9 1361.8h.01M587.7 1410.9h.01M600.2 1364.6h.01M608 1413.9h.01M609.8 1366h.01M624.1 1414h.01M624.1 1366h.01M639.2 1414h.01M639.2 1366h.01M654.4 1414h.01M654.4 1366h.01M669.5 1414h.01M669.5 1366h.01M684.7 1414h.01M684.7 1366h.01M699.8 1414h.01M699.8 1366h.01M715 1414h.01M715 1366h.01M730.2 1414h.01M730.2 1366h.01M745.3 1414h.01M745.3 1366h.01M760.5 1414h.01M760.5 1366h.01M775.6 1414h.01M775.6 1366h.01M790.8 1414h.01M790.8 1366h.01M805.9 1414h.01M805.9 1366h.01M821.1 1414h.01M821.1 1366h.01M836.2 1414h.01M836.2 1366h.01M851.4 1414h.01M851.4 1366h.01M866.5 1414h.01M866.5 1366h.01M881.7 1414h.01M881.7 1366h.01M896.8 1414h.01M896.8 1366h.01M912 1414h.01M912 1366h.01" fill="none" stroke="#EFC232" stroke-width="13.2" stroke-linecap="round"/>
<path d="M907 1570.8Q898.2 1592 907 1613.2M907 1570.8Q915.8 1592 907 1613.2M891.1 1570.8Q882.3 1592 891.1 1613.2M891.1 1570.8Q899.9 1592 891.1 1613.2M875.2 1570.8Q866.4 1592 875.2 1613.2M875.2 1570.8Q884 1592 875.2 1613.2M859.3 1570.8Q850.5 1592 859.3 1613.2M859.3 1570.8Q868.1 1592 859.3 1613.2M843.4 1570.8Q834.6 1592 843.4 1613.2M843.4 1570.8Q852.2 1592 843.4 1613.2M827.5 1570.8Q818.7 1592 827.5 1613.2M827.5 1570.8Q836.3 1592 827.5 1613.2M811.6 1570.8Q802.8 1592 811.6 1613.2M811.6 1570.8Q820.4 1592 811.6 1613.2M795.7 1570.8Q786.9 1592 795.7 1613.2M795.7 1570.8Q804.5 1592 795.7 1613.2M779.8 1570.8Q771 1592 779.8 1613.2M779.8 1570.8Q788.6 1592 779.8 1613.2M763.9 1570.8Q755.1 1592 763.9 1613.2M763.9 1570.8Q772.7 1592 763.9 1613.2M748 1570.8Q739.2 1592 748 1613.2M748 1570.8Q756.8 1592 748 1613.2M732.1 1570.8Q723.3 1592 732.1 1613.2M732.1 1570.8Q740.9 1592 732.1 1613.2M716.2 1570.8Q707.4 1592 716.2 1613.2M716.2 1570.8Q725 1592 716.2 1613.2M700.4 1570.8Q691.6 1592 700.4 1613.2M700.4 1570.8Q709.2 1592 700.4 1613.2M684.5 1570.8Q675.7 1592 684.5 1613.2M684.5 1570.8Q693.3 1592 684.5 1613.2M668.6 1570.8Q659.8 1592 668.6 1613.2M668.6 1570.8Q677.4 1592 668.6 1613.2M652.7 1570.8Q643.9 1592 652.7 1613.2M652.7 1570.8Q661.5 1592 652.7 1613.2M636.8 1570.8Q628 1592 636.8 1613.2M636.8 1570.8Q645.6 1592 636.8 1613.2M620.9 1570.8Q612.1 1592 620.9 1613.2M620.9 1570.8Q629.7 1592 620.9 1613.2M605 1570.8Q596.2 1592 605 1613.2M605 1570.8Q613.8 1592 605 1613.2M589.1 1570.8Q580.3 1592 589.1 1613.2M589.1 1570.8Q597.9 1592 589.1 1613.2M573.2 1570.8Q564.4 1592 573.2 1613.2M573.2 1570.8Q582 1592 573.2 1613.2M557.3 1570.8Q548.5 1592 557.3 1613.2M557.3 1570.8Q566.1 1592 557.3 1613.2M541.4 1570.8Q532.6 1592 541.4 1613.2M541.4 1570.8Q550.2 1592 541.4 1613.2M525.5 1570.8Q516.7 1592 525.5 1613.2M525.5 1570.8Q534.3 1592 525.5 1613.2M509.6 1570.8Q500.8 1592 509.6 1613.2M509.6 1570.8Q518.4 1592 509.6 1613.2M493.7 1570.8Q484.9 1592 493.7 1613.2M493.7 1570.8Q502.5 1592 493.7 1613.2M477.8 1570.8Q469 1592 477.8 1613.2M477.8 1570.8Q486.6 1592 477.8 1613.2M461.9 1570.8Q453.1 1592 461.9 1613.2M461.9 1570.8Q470.7 1592 461.9 1613.2M446 1570.8Q437.2 1592 446 1613.2M446 1570.8Q454.8 1592 446 1613.2M430.1 1570.8Q421.3 1592 430.1 1613.2M430.1 1570.8Q438.9 1592 430.1 1613.2M414.2 1570.8Q405.4 1592 414.2 1613.2M414.2 1570.8Q423 1592 414.2 1613.2M398.3 1570.8Q389.5 1592 398.3 1613.2M398.3 1570.8Q407.1 1592 398.3 1613.2M382.4 1570.8Q373.6 1592 382.4 1613.2M382.4 1570.8Q391.2 1592 382.4 1613.2M366.5 1570.8Q357.7 1592 366.5 1613.2M366.5 1570.8Q375.3 1592 366.5 1613.2M350.6 1570.8Q341.8 1592 350.6 1613.2M350.6 1570.8Q359.4 1592 350.6 1613.2M334.7 1570.8Q325.9 1592 334.7 1613.2M334.7 1570.8Q343.5 1592 334.7 1613.2M318.8 1570.8Q310 1592 318.8 1613.2M318.8 1570.8Q327.6 1592 318.8 1613.2M303 1570.8Q294.2 1592 303 1613.2M303 1570.8Q311.8 1592 303 1613.2M287.1 1570.8Q278.3 1592 287.1 1613.2M287.1 1570.8Q295.9 1592 287.1 1613.2M270.3 1570.9Q262.4 1592.4 272.1 1613.2M270.3 1570.9Q280 1591.7 272.1 1613.2M252.5 1572.5Q246.6 1594.7 258.2 1614.5M252.5 1572.5Q264.1 1592.3 258.2 1614.5M234.8 1575.8Q231.2 1598.4 244.6 1617M234.8 1575.8Q248.3 1594.4 244.6 1617M217.6 1580.7Q216.1 1603.6 231.3 1620.9M217.6 1580.7Q232.8 1597.9 231.3 1620.9M200.9 1587.4Q201.7 1610.3 218.5 1626M200.9 1587.4Q217.7 1603 218.5 1626M185 1595.5Q187.9 1618.3 206.1 1632.3M185 1595.5Q203.2 1609.5 206.1 1632.3M169.9 1605.1Q175 1627.5 194.4 1639.8M169.9 1605.1Q189.3 1617.4 194.4 1639.8M155.9 1615.9Q162.8 1637.8 183.2 1648.4M155.9 1615.9Q176.3 1626.5 183.2 1648.4M142.9 1627.8Q151.5 1649 172.7 1658M142.9 1627.8Q164.1 1636.7 172.7 1658M131 1640.5Q141.1 1661 162.9 1668.4M131 1640.5Q152.7 1647.8 162.9 1668.4M120 1653.9Q131.5 1673.7 153.7 1679.6M120 1653.9Q142.2 1659.7 153.7 1679.6M110 1667.8Q122.7 1687 145.2 1691.5M110 1667.8Q132.5 1672.3 145.2 1691.5M100.9 1682.3Q114.6 1700.7 137.4 1703.9M100.9 1682.3Q123.6 1685.5 137.4 1703.9M92.7 1698.8Q108.6 1715.4 131.5 1715.9M92.7 1698.8Q115.7 1699.3 131.5 1715.9M86.3 1714.8Q103.2 1730.4 126.1 1729.4M86.3 1714.8Q109.2 1713.8 126.1 1729.4M80.9 1731.1Q98.7 1745.6 121.5 1743.2M80.9 1731.1Q103.7 1728.8 121.5 1743.2M76.5 1747.7Q95.1 1761.1 117.8 1757.4M76.5 1747.7Q99.1 1744 117.8 1757.4M73.1 1764.5Q92.4 1776.8 114.8 1771.8M73.1 1764.5Q95.5 1759.5 114.8 1771.8M70.6 1781.4Q90.6 1792.6 112.7 1786.3M70.6 1781.4Q92.7 1775.1 112.7 1786.3M69.1 1798.4Q89.7 1808.5 111.4 1801M69.1 1798.4Q90.8 1790.9 111.4 1801M68.5 1815.5Q89.6 1824.4 110.9 1815.7M68.5 1815.5Q89.7 1806.8 110.9 1815.7M68.9 1832.2Q90.4 1840.3 111.2 1830.7M68.9 1832.2Q89.7 1822.7 111.2 1830.7M69.7 1848.8Q91.5 1856.1 112 1845.9M69.7 1848.8Q90.3 1838.6 112 1845.9M71.2 1865.3Q93.1 1871.9 113.3 1861M71.2 1865.3Q91.4 1854.4 113.3 1861M73.1 1881.7Q95.2 1887.7 115.1 1876.2M73.1 1881.7Q92.9 1870.2 115.1 1876.2M75.4 1898Q97.7 1903.4 117.3 1891.4M75.4 1898Q95 1886 117.3 1891.4M78.2 1914.2Q100.6 1919 119.9 1906.5M78.2 1914.2Q97.5 1901.7 119.9 1906.5M81.3 1930.2Q103.8 1934.6 122.8 1921.7M81.3 1930.2Q100.3 1917.3 122.8 1921.7M84.6 1946Q107.2 1950.1 126.1 1937M84.6 1946Q103.5 1932.9 126.1 1937M88.2 1961.8Q110.8 1965.6 129.5 1952.3M88.2 1961.8Q106.9 1948.4 129.5 1952.3M91.8 1977.3Q114.4 1981.1 133.1 1967.7M91.8 1977.3Q110.4 1963.9 133.1 1967.7M95.3 1992.7Q118 1996.6 136.7 1983.3M95.3 1992.7Q114 1979.4 136.7 1983.3" fill="none" stroke="#F49C33" stroke-width="2.7"/>
<path d="M907 1592L891.1 1592L875.2 1592L859.3 1592L843.4 1592L827.5 1592L811.6 1592L795.7 1592L779.8 1592L763.9 1592L748 1592L732.1 1592L716.2 1592L700.4 1592L684.5 1592L668.6 1592L652.7 1592L636.8 1592L620.9 1592L605 1592L589.1 1592L573.2 1592L557.3 1592L541.4 1592L525.5 1592L509.6 1592L493.7 1592L477.8 1592L461.9 1592L446 1592L430.1 1592L414.2 1592L398.3 1592L382.4 1592L366.5 1592L350.6 1592L334.7 1592L318.8 1592L303 1592L287.1 1592L271.2 1592L255.3 1593.5L239.7 1596.4L224.4 1600.8L209.7 1606.7L195.5 1613.9L182.2 1622.5L169.6 1632.2L157.8 1642.9L146.9 1654.4L136.8 1666.7L127.6 1679.7L119.1 1693.1L112.1 1707.4L106.2 1722.1L101.2 1737.2L97.1 1752.6L93.9 1768.1L91.6 1783.9L90.2 1799.7L89.7 1815.6L90.1 1831.5L90.9 1847.3L92.2 1863.2L94.1 1879L96.4 1894.7L99 1910.4L102.1 1926L105.4 1941.5L108.8 1957L112.4 1972.5L116 1988" fill="none" stroke="#FFF2CF" stroke-opacity=".55" stroke-width="2"/>
<path d="M907 1566.8h.01M907 1617.2h.01M891.1 1566.8h.01M891.1 1617.2h.01M875.2 1566.8h.01M875.2 1617.2h.01M859.3 1566.8h.01M859.3 1617.2h.01M843.4 1566.8h.01M843.4 1617.2h.01M827.5 1566.8h.01M827.5 1617.2h.01M811.6 1566.8h.01M811.6 1617.2h.01M795.7 1566.8h.01M795.7 1617.2h.01M779.8 1566.8h.01M779.8 1617.2h.01M763.9 1566.8h.01M763.9 1617.2h.01M748 1566.8h.01M748 1617.2h.01M732.1 1566.8h.01M732.1 1617.2h.01M716.2 1566.8h.01M716.2 1617.2h.01M700.4 1566.8h.01M700.4 1617.2h.01M684.5 1566.8h.01M684.5 1617.2h.01M668.6 1566.8h.01M668.6 1617.2h.01M652.7 1566.8h.01M652.7 1617.2h.01M636.8 1566.8h.01M636.8 1617.2h.01M620.9 1566.8h.01M620.9 1617.2h.01M605 1566.8h.01M605 1617.2h.01M589.1 1566.8h.01M589.1 1617.2h.01M573.2 1566.8h.01M573.2 1617.2h.01M557.3 1566.8h.01M557.3 1617.2h.01M541.4 1566.8h.01M541.4 1617.2h.01M525.5 1566.8h.01M525.5 1617.2h.01M509.6 1566.8h.01M509.6 1617.2h.01M493.7 1566.8h.01M493.7 1617.2h.01M477.8 1566.8h.01M477.8 1617.2h.01M461.9 1566.8h.01M461.9 1617.2h.01M446 1566.8h.01M446 1617.2h.01M430.1 1566.8h.01M430.1 1617.2h.01M414.2 1566.8h.01M414.2 1617.2h.01M398.3 1566.8h.01M398.3 1617.2h.01M382.4 1566.8h.01M382.4 1617.2h.01M366.5 1566.8h.01M366.5 1617.2h.01M350.6 1566.8h.01M350.6 1617.2h.01M334.7 1566.8h.01M334.7 1617.2h.01M318.8 1566.8h.01M318.8 1617.2h.01M303 1566.8h.01M303 1617.2h.01M287.1 1566.8h.01M287.1 1617.2h.01M270.1 1566.9h.01M272.2 1617.2h.01M251.9 1568.5h.01M258.8 1618.5h.01M233.9 1571.9h.01M245.5 1620.9h.01M216.3 1576.9h.01M232.6 1624.6h.01M199.2 1583.7h.01M220.1 1629.6h.01M183 1592.1h.01M208.1 1635.8h.01M167.6 1601.9h.01M196.7 1643.1h.01M153.3 1612.9h.01M185.8 1651.5h.01M140.1 1624.9h.01M175.5 1660.8h.01M128 1637.8h.01M165.9 1671h.01M116.8 1651.4h.01M156.9 1682h.01M106.7 1665.6h.01M148.5 1693.7h.01M97.4 1680.3h.01M140.8 1705.9h.01M89.1 1697.2h.01M135.2 1717.5h.01M82.5 1713.5h.01M129.9 1730.8h.01M77.1 1730h.01M125.4 1744.4h.01M72.6 1746.8h.01M121.7 1758.3h.01M69.1 1763.8h.01M118.8 1772.5h.01M66.6 1780.9h.01M116.7 1786.8h.01M65.1 1798.1h.01M115.4 1801.2h.01M64.5 1815.4h.01M114.9 1815.7h.01M64.9 1832.4h.01M115.2 1830.5h.01M65.8 1849.1h.01M116 1845.6h.01M67.2 1865.7h.01M117.3 1860.6h.01M69.1 1882.2h.01M119.1 1875.7h.01M71.5 1898.6h.01M121.3 1890.7h.01M74.3 1914.9h.01M123.8 1905.8h.01M77.4 1931h.01M126.8 1920.9h.01M80.7 1946.9h.01M130 1936.1h.01M84.3 1962.6h.01M133.4 1951.4h.01M87.9 1978.2h.01M137 1966.8h.01M91.4 1993.6h.01M140.6 1982.4h.01" fill="none" stroke="#FBCA2E" stroke-width="14.4" stroke-linecap="round"/>
<rect x="279" y="1521.5" width="26" height="122.5" fill="#86AACD"/>
<path d="M272 1516.5Q260 1516.5 260.5 1530.5C264 1562.9 264 1602.6 260.5 1635Q260 1649 272 1649L277 1649C285 1639 289.7 1621 291.2 1601L291.2 1564.5C289.7 1544.5 285 1526.5 277 1516.5Z" fill="#C7DAEA"/>
<path d="M312 1516.5Q324 1516.5 323.5 1530.5C320 1562.9 320 1602.6 323.5 1635Q324 1649 312 1649L307 1649C299 1639 294.3 1621 292.8 1601L292.8 1564.5C294.3 1544.5 299 1526.5 307 1516.5Z" fill="#C7DAEA"/>
<rect x="392" y="1521.5" width="26" height="122.5" fill="#86AACD"/>
<path d="M385 1516.5Q373 1516.5 373.5 1530.5C377 1562.9 377 1602.6 373.5 1635Q373 1649 385 1649L390 1649C398 1639 402.7 1621 404.2 1601L404.2 1564.5C402.7 1544.5 398 1526.5 390 1516.5Z" fill="#C7DAEA"/>
<path d="M425 1516.5Q437 1516.5 436.5 1530.5C433 1562.9 433 1602.6 436.5 1635Q437 1649 425 1649L420 1649C412 1639 407.3 1621 405.8 1601L405.8 1564.5C407.3 1544.5 412 1526.5 420 1516.5Z" fill="#C7DAEA"/>
<rect x="566" y="1521.5" width="26" height="122.5" fill="#86AACD"/>
<path d="M559 1516.5Q547 1516.5 547.5 1530.5C551 1562.9 551 1602.6 547.5 1635Q547 1649 559 1649L564 1649C572 1639 576.7 1621 578.2 1601L578.2 1564.5C576.7 1544.5 572 1526.5 564 1516.5Z" fill="#C7DAEA"/>
<path d="M599 1516.5Q611 1516.5 610.5 1530.5C607 1562.9 607 1602.6 610.5 1635Q611 1649 599 1649L594 1649C586 1639 581.3 1621 579.8 1601L579.8 1564.5C581.3 1544.5 586 1526.5 594 1516.5Z" fill="#C7DAEA"/>
<rect x="681" y="1521.5" width="26" height="122.5" fill="#86AACD"/>
<path d="M674 1516.5Q662 1516.5 662.5 1530.5C666 1562.9 666 1602.6 662.5 1635Q662 1649 674 1649L679 1649C687 1639 691.7 1621 693.2 1601L693.2 1564.5C691.7 1544.5 687 1526.5 679 1516.5Z" fill="#C7DAEA"/>
<path d="M714 1516.5Q726 1516.5 725.5 1530.5C722 1562.9 722 1602.6 725.5 1635Q726 1649 714 1649L709 1649C701 1639 696.3 1621 694.8 1601L694.8 1564.5C696.3 1544.5 701 1526.5 709 1516.5Z" fill="#C7DAEA"/>
<rect x="813" y="1521.5" width="26" height="122.5" fill="#86AACD"/>
<path d="M806 1516.5Q794 1516.5 794.5 1530.5C798 1562.9 798 1602.6 794.5 1635Q794 1649 806 1649L811 1649C819 1639 823.7 1621 825.2 1601L825.2 1564.5C823.7 1544.5 819 1526.5 811 1516.5Z" fill="#C7DAEA"/>
<path d="M846 1516.5Q858 1516.5 857.5 1530.5C854 1562.9 854 1602.6 857.5 1635Q858 1649 846 1649L841 1649C833 1639 828.3 1621 826.8 1601L826.8 1564.5C828.3 1544.5 833 1526.5 841 1516.5Z" fill="#C7DAEA"/>
<defs><radialGradient id="dg"><stop offset="0" stop-color="#EE6A72"/><stop offset=".6" stop-color="#F0747C"/><stop offset="1" stop-color="#F48C92"/></radialGradient></defs>
<g fill="url(#dg)"><circle cx="554" cy="488" r="10.5"/><circle cx="534" cy="520" r="10.5"/><circle cx="581" cy="521" r="10.5"/><circle cx="315" cy="578" r="10.5"/><circle cx="390" cy="565" r="10.5"/><circle cx="350" cy="595" r="10.5"/><circle cx="305" cy="620" r="10.5"/><circle cx="395" cy="614" r="10.5"/><circle cx="433" cy="613" r="10.5"/><circle cx="366" cy="631" r="10.5"/></g>
<g fill="url(#dg)"><circle cx="472" cy="1152" r="10.5"/><circle cx="430" cy="1187" r="10.5"/><circle cx="521.6" cy="1178" r="10.5"/><circle cx="477" cy="1197" r="10.5"/><circle cx="438" cy="1226" r="10.5"/><circle cx="526" cy="1222" r="10.5"/><circle cx="488.5" cy="1237.6" r="10.5"/><circle cx="458" cy="1268" r="10.5"/><circle cx="507.6" cy="1281.7" r="10.5"/><circle cx="470.7" cy="1312" r="10.5"/><circle cx="498.7" cy="1346" r="10.5"/><circle cx="506" cy="1406" r="10.5"/><circle cx="373" cy="1430" r="10.5"/><circle cx="423" cy="1458.5" r="10.5"/><circle cx="329.5" cy="1523" r="10.5"/><circle cx="580.6" cy="1512" r="10.5"/></g>
<defs><clipPath id="vesclip"><path d="M 195.7 820.6 C 226.3 820.6 278.4 848.2 301.3 884.9 C 321.2 920.1 319.7 950.7 301.3 970.6 C 286 992.1 255.4 1006.6 229.4 1006.6 C 201.8 1006.6 174.3 993.6 160.5 966 C 145.2 935.4 137.6 920.1 138.3 900.2 C 139.1 866.5 163.6 820.6 195.7 820.6 Z"/></clipPath></defs>
<path d="M 195.7 820.6 C 226.3 820.6 278.4 848.2 301.3 884.9 C 321.2 920.1 319.7 950.7 301.3 970.6 C 286 992.1 255.4 1006.6 229.4 1006.6 C 201.8 1006.6 174.3 993.6 160.5 966 C 145.2 935.4 137.6 920.1 138.3 900.2 C 139.1 866.5 163.6 820.6 195.7 820.6 Z" fill="#E9C9C6" stroke="#EBC3BE" stroke-width="1.5"/>
<path d="M 209.5 822.1 C 247.8 829.8 286 858.9 302.9 888 C 319.7 920.1 316.6 940 302.9 955.3 C 278.4 978.3 232.5 989 189.6 993.6 C 160.5 973.7 139.1 935.4 139.1 900.2 C 145.2 866.5 174.3 828.3 209.5 822.1 Z" fill="#EFDFDA" clip-path="url(#vesclip)"/>
<g fill="#F7A9AE" stroke="#F49098" stroke-width="1.2"><circle cx="227.9" cy="869.9" r="11.3"/><circle cx="263.5" cy="890.3" r="11.3"/><circle cx="182.2" cy="900.2" r="11.3"/><circle cx="202.3" cy="945.8" r="11.3"/><circle cx="263.5" cy="937.7" r="11.3"/></g>
<circle cx="223.6" cy="907.6" r="12" fill="#F06E72" stroke="#F58A8E" stroke-width="2"/>
<path d="M545 316L545 356" stroke="#000" stroke-width="6.5" fill="none"/>
<polygon points="545,378 533.5,354 556.5,354" fill="#000"/>
<path d="M342 700L242.2 797.3" stroke="#000" stroke-width="8" fill="none"/>
<polygon points="225,814 234.5,786.5 252.7,805.2" fill="#000"/>
<path d="M727 792L615.9 855.1" stroke="#000" stroke-width="8" fill="none"/>
<polygon points="595,867 611.2,842.9 624,865.5" fill="#000"/>
<path d="M762 796L762 848" stroke="#000" stroke-width="7" fill="none"/>
<polygon points="762,872 749,846 775,846" fill="#000"/>
<path d="M306 880L430 880" stroke="#000" stroke-width="8.4" fill="none"/>
<polygon points="454,880 428,893 428,867" fill="#000"/>
<path d="M280 997.5L406.6 1118.4" stroke="#000" stroke-width="9" fill="none"/>
<polygon points="424,1135 396.2,1126.4 414.2,1107.6" fill="#000"/>
<path d="M762 1023L762 1073" stroke="#000" stroke-width="7" fill="none"/>
<polygon points="762,1097 749,1071 775,1071" fill="#000"/>
<path d="M762 1197L762 1249" stroke="#000" stroke-width="7" fill="none"/>
<polygon points="762,1273 749,1247 775,1247" fill="#000"/>
<path d="M604.5 432C624 446 628 485 623 513C616 540 540 553 463 559.5" stroke="#000" stroke-width="8.6" fill="none"/>
<polygon points="439,561.5 465,548 466.5,574" fill="#000"/>
<path d="M733 510C780 506 843 516 842 538C842 548 836 552 828 554.5" stroke="#000" stroke-width="8.6" fill="none"/>
<polygon points="809,563 828,542.5 837,566" fill="#000"/>
<ellipse cx="679.5" cy="511.5" rx="53.5" ry="48" fill="#F8A8A8" stroke="#C9212B" stroke-width="3"/>
<g transform="translate(655.3 525.8) scale(.86 1)"><text x="0" y="0" font-size="42" font-weight="bold" fill="#111">O<tspan font-size="24" dy="10.8" dx="4">2</tspan></text></g>
<rect x="624.3" y="894.3" width="277.4" height="69.4" rx="11" fill="#DAE3F3" stroke="#4472C4" stroke-width="4.6"/>
<text x="644" y="943.5" font-size="45" font-weight="bold" fill="#7F6228" textLength="240" lengthAdjust="spacingAndGlyphs"><tspan font-family="'Liberation Serif',serif" font-style="italic" font-weight="bold" font-size="50">α</tspan>-synuclein</text>
<rect x="625.7" y="1114.3" width="277.4" height="68.4" rx="11" fill="#DAE3F3" stroke="#4472C4" stroke-width="4.6"/>
<text x="644" y="1164" font-size="45" font-weight="bold" fill="#7F6228" textLength="240" lengthAdjust="spacingAndGlyphs"><tspan font-family="'Liberation Serif',serif" font-style="italic" font-weight="bold" font-size="50">α</tspan>-synuclein</text>
<ellipse cx="844" cy="1096" rx="36" ry="21.5" fill="#FCBE10" stroke="#C79A1E" stroke-width="1.5"/>
<text x="844" y="1105" font-size="25" fill="#222" text-anchor="middle">Ub</text>
<ellipse cx="883" cy="1071" rx="36" ry="21.5" fill="#FCBE10" stroke="#C79A1E" stroke-width="1.5"/>
<text x="883" y="1080" font-size="25" fill="#222" text-anchor="middle">Ub</text>
<path d="M 663.5 698.1 C 663.5 654.1 718.5 578 820.4 578 C 922.4 578 987.6 654.1 987.6 698.1 C 987.6 720.1 972.7 732.6 947.5 731.8 C 906.8 724.8 867.5 709.1 825.2 709.1 C 781.2 709.1 742 724.8 702.8 731.8 C 677.7 732.6 663.5 720.1 663.5 698.1 Z" fill="#D8C5E3" stroke="#CDB5DC" stroke-width="1.5"/>
<path d="M674.8 698.1L674.8 694.9L675.1 691.5L675.5 687.9L676.1 684.3L676.8 680.9L677.7 677.7L678.7 674.6L680 671.5L681.4 668.5L682.9 665.8L684.3 663.6L685.5 662L686.6 661.1L687.6 660.7L688.6 660.8L689.5 661.4L690.3 662.3L691 663.6L691.6 665.5L692 668.1L692.3 671.1L692.6 674.2L692.9 677L693.4 679.3L693.9 681L694.5 682.4L695.2 683.7L695.9 684.6L696.6 685.2L697.3 685.5L697.9 685.6L698.6 685.6L699.2 685.2L699.9 684.4L700.5 683L701.2 680.8L701.8 677.6L702.4 673.4L703.1 668.7L703.7 663.6L704.4 658.7L705.1 654.1L705.8 649.9L706.5 645.7L707.2 641.5L708.1 637.5L709.2 633.9L710.6 630.6L712.5 627.7L714.9 625.1L717.4 622.8L720.1 620.8L722.6 619.2L724.7 618.1L726.7 617.3L728.5 617L730.2 617.1L731.7 617.5L733 618.4L734.1 619.6L734.9 621.4L735.4 623.9L735.7 626.7L735.9 629.7L736.1 632.6L736.5 635.3L737 637.9L737.5 640.6L738.1 643.3L738.8 645.7L739.5 647.8L740.4 649.4L741.6 650.6L742.9 651.3L744.4 651.7L745.9 651.8L747.2 651.5L748.3 651L749.1 650.2L749.8 649L750.4 647.6L750.8 645.8L751.2 643.8L751.4 641.6L751.4 639L751.2 636L750.9 632.8L750.6 629.4L750.4 626L750.6 622.8L751 619.5L751.5 616.1L752.1 612.7L753.1 609.5L754.4 606.5L756.1 603.9L758.6 601.8L761.8 599.8L765.3 598.2L768.9 596.9L772.2 595.9L774.9 595.3L777.1 595L779 595.1L780.7 595.5L782.1 596.2L783.3 597.5L784.4 599.2L785.1 601.8L785.6 605.1L785.9 608.8L786.1 612.7L786.3 616.4L786.7 619.6L787.2 622.4L787.7 625.1L788.2 627.5L788.9 629.7L789.6 631.5L790.6 633L792 634L793.6 634.6L795.3 634.9L797.1 634.8L798.7 634.4L800.1 633.7L801.1 632.7L801.9 631.2L802.6 629.4L803.1 627.3L803.6 625.1L804 622.8L804.2 620.2L804.3 617.4L804.2 614.3L804.2 611.3L804.3 608.3L804.8 605.5L805.4 602.8L806.2 600.2L807.1 597.6L808.2 595.2L809.5 593.1L811 591.4L813 590.2L815.2 589.3L817.7 588.7L820.3 588.4L822.8 588.3L825.2 588.2L827.4 588.3L829.8 588.4L832.1 588.6L834.2 589.2L836.1 590.1L837.7 591.4L838.8 593.3L839.6 595.7L840.1 598.4L840.5 601.4L841 604.3L841.6 607.1L842.4 609.8L843.2 612.8L844 615.8L844.9 618.5L846 620.9L847.1 622.8L848.5 624.1L850.1 624.9L851.9 625.5L853.6 625.6L855.2 625.5L856.5 625.1L857.6 624.4L858.5 623.3L859.3 621.9L860 620.3L860.6 618.5L861.2 616.5L861.8 614.2L862.3 611.5L862.7 608.5L863.2 605.6L863.7 603L864.4 600.8L865.2 599L866 597.4L866.8 596L867.9 595L869.1 594.2L870.7 593.7L872.6 593.7L875 594L877.5 594.7L880.1 595.5L882.6 596.6L884.8 597.7L886.7 598.7L888.5 599.9L890.1 601.1L891.6 602.7L893 604.6L894.2 607.1L895.2 610.2L895.9 613.9L896.6 618.1L897.1 622.4L897.6 626.6L898.1 630.6L898.6 634.6L899.1 638.8L899.5 642.9L900 646.8L900.5 650.1L901.3 652.6L902.2 654.2L903.4 655.2L904.7 655.7L906 655.7L907.2 655.4L908.3 654.9L909.3 654.2L910.2 653.2L911.1 651.8L911.8 650.2L912.5 648.4L913 646.3L913.3 643.9L913.3 641L913.3 637.8L913.2 634.6L913.4 631.7L913.8 629L914.6 626.6L915.5 624.3L916.6 622.1L917.9 620.2L919.3 618.8L920.9 618.1L922.7 618L924.8 618.5L927.1 619.4L929.4 620.8L931.5 622.5L933.4 624.3L935.1 626.4L936.7 628.9L938.1 631.6L939.4 634.6L940.4 638L941.3 641.6L941.8 645.9L942 650.8L942 656.1L941.9 661.2L941.9 666L942.1 669.8L942.3 672.9L942.6 675.4L942.9 677.4L943.3 679.1L943.8 680.5L944.4 681.6L945.3 682.5L946.3 683.2L947.4 683.5L948.6 683.5L949.7 683.2L950.7 682.4L951.5 681.1L952.2 679.3L952.9 677L953.5 674.6L954.1 672.2L954.6 669.8L955 667.4L955.4 664.7L955.6 661.9L955.9 659.3L956.4 657.2L957 655.7L957.7 654.9L958.6 654.4L959.7 654.3L960.8 654.8L962 655.8L963.2 657.3L964.7 659.6L966.3 662.7L968 666.3L969.7 670.2L971.3 674.1L972.7 677.7L973.8 681.1L974.9 684.6L975.9 688.1L976.7 691.5L977.2 694.9L977.4 698.1L977.3 701.3L977 704.5L976.5 707.6L975.6 710.5L974.4 713.1L972.7 715.3L970.3 717.1L967.3 718.6L963.9 719.8L960.4 720.6L956.9 721.2L953.8 721.6L950.9 721.7L948 721.5L945.2 721L942.5 720.3L940.2 719.5L938.1 718.5L936.5 717.4L935.2 716.3L934.1 715L933.3 713.5L932.5 711.5L931.9 709.1L931.3 705.9L931 702L930.8 697.7L930.6 693.3L930.5 689.2L930.3 685.5L930.1 682.3L929.9 679.3L929.6 676.5L929.4 674L929.1 671.7L928.7 669.8L928.2 668.3L927.6 667.1L926.9 666.2L926.2 665.6L925.5 665.2L924.8 665.1L924.1 665.2L923.4 665.3L922.6 665.7L921.9 666.5L921.3 667.9L920.9 669.8L920.6 672.8L920.5 676.6L920.5 681L920.5 685.5L920.4 689.8L920.1 693.4L919.7 696.4L919.3 699.2L918.8 701.8L918.1 704L917.3 705.9L916.2 707.5L914.7 708.7L913 709.4L911 709.9L909 710.1L907 710L905.2 709.9L903.4 709.5L901.7 709.1L899.9 708.4L898.3 707.5L896.9 706.1L895.8 704.4L895 701.9L894.5 698.8L894.1 695.4L893.9 691.8L893.7 688.5L893.4 685.5L893.1 683L892.7 680.5L892.4 678.2L892.1 676.2L891.6 674.4L891.1 673L890.3 671.9L889.5 671.2L888.5 670.8L887.5 670.6L886.5 670.5L885.6 670.6L884.6 670.8L883.6 671L882.6 671.5L881.6 672.1L880.8 673.1L880.1 674.5L879.6 676.6L879.4 679.2L879.2 682.1L879.1 685.2L878.9 687.9L878.5 690.2L878 692.1L877.6 693.7L877.1 695L876.4 696.2L875.3 697.2L873.8 698.1L871.6 698.8L868.9 699.4L865.8 699.7L862.5 699.9L859.4 699.9L856.5 699.7L853.9 699.3L851.2 698.8L848.6 698.1L846.2 697L844.1 695.5L842.4 693.4L841.2 690.4L840.5 686.5L840.1 682.2L839.8 677.7L839.6 673.5L839.3 669.8L839 666.6L838.8 663.6L838.6 660.7L838.5 658.2L838.2 655.9L837.7 654.1L837 652.8L836.2 651.9L835.2 651.4L834.2 651.1L833.2 651L832.2 651L831.3 651L830.2 651.1L829.2 651.4L828.3 652L827.4 653.1L826.7 654.9L826.3 657.7L826.1 661.4L826.1 665.6L826 669.9L825.7 674.1L825.2 677.7L824.4 680.8L823.5 683.8L822.4 686.6L821.1 689.1L819.4 691.4L817.3 693.4L814.5 695.1L811.2 696.5L807.4 697.7L803.6 698.6L800 699.3L796.9 699.7L794.3 699.9L791.8 699.9L789.6 699.7L787.6 699.1L785.9 698.1L784.4 696.5L783.2 694.3L782.3 691.6L781.7 688.4L781.2 684.9L780.8 681.3L780.4 677.7L780.1 673.9L780 669.7L779.9 665.3L779.9 661.1L779.8 657.3L779.7 654.1L779.5 651.7L779.3 649.7L779.2 648.1L778.9 646.8L778.6 645.7L778.1 644.7L777.4 643.9L776.5 643.2L775.6 642.7L774.6 642.4L773.6 642.3L772.6 642.4L771.6 642.5L770.6 642.8L769.6 643.2L768.6 643.9L767.8 644.9L767.1 646.3L766.6 648.1L766.3 650.1L766.2 652.4L766 655.2L765.8 658.3L765.5 662L765.2 666.5L764.8 672L764.4 677.9L763.8 683.7L763.2 689.1L762.4 693.4L761.4 696.6L760.4 699.2L759.2 701.3L757.8 703L756.3 704.5L754.5 705.9L752.5 707.3L750.1 708.4L747.5 709.3L744.9 709.9L742.5 710.4L740.4 710.6L738.7 710.7L737.1 710.6L735.8 710.2L734.6 709.6L733.5 708.7L732.6 707.5L731.9 705.8L731.4 703.7L731 701.3L730.7 698.7L730.5 696L730.2 693.4L730 690.5L729.8 687.4L729.6 684.1L729.4 681L729.1 678.3L728.7 676.1L728 674.6L727.1 673.6L726.2 672.9L725.2 672.5L724.2 672.3L723.2 672.2L722.1 672.2L721 672.3L719.9 672.6L718.8 673.2L717.8 674L716.9 675.3L716.2 677.1L715.6 679.3L715 681.8L714.6 684.5L714.1 687.4L713.7 690.2L713.5 693.2L713.3 696.5L713.2 699.9L713 703.2L712.7 706.3L712.2 709.1L711.5 711.5L710.7 713.7L709.8 715.6L708.8 717.4L707.5 718.9L705.9 720.1L704 721L701.7 721.6L699.2 722L696.7 722.1L694.1 722L691.8 721.6L689.5 720.9L687.2 720L684.9 718.8L682.7 717.3L680.8 715.6L679.2 713.8L677.9 711.7L676.9 709.3L676.1 706.7L675.5 704L675.1 701.1Z" fill="#A680B9"/>
<path d="M 589.9 2019 C 584.9 1959.3 694.4 1847.3 905.9 1829.9 C 1017.8 1824.9 1104.9 1872.2 1097.4 1959.3 C 1092.4 2033.9 1030.2 2121 943.2 2155.8 C 868.5 2185.7 769 2193.1 694.4 2158.3 C 632.2 2126 594.9 2071.2 589.9 2019 Z" fill="#E2AEC7"/>
<path d="M 591.1 2016.5 C 587.4 1956.8 694.4 1847.3 905.9 1831.1 C 1017.8 1826.2 1102.4 1872.2 1096.2 1949.3 C 1080 2009 968 2091.1 818.8 2114.8 C 694.4 2130.9 597.4 2083.7 591.1 2016.5 Z" fill="#E8BAD1"/>
<path d="M613.5 2016.5L614.5 2011.4L615.9 2005.3L617.6 1998.8L619.5 1992.3L621.5 1986.4L623.5 1981.7L625.6 1978L627.8 1974.8L630.2 1972.3L632.6 1970.5L634.9 1969.5L637.2 1969.2L639.4 1970L641.6 1971.9L643.9 1974.5L646 1977.6L647.9 1980.9L649.6 1984.1L651 1987.6L652.1 1991.7L653 1996L653.8 2000.1L654.7 2003.7L655.8 2006.5L657.2 2008.5L658.6 2010L660.2 2011L661.7 2011.6L663.2 2011.7L664.5 2011.5L665.8 2011.1L667.2 2010.5L668.4 2009.5L669.5 2007.8L670.3 2005.3L670.8 2001.6L670.6 1996.2L670 1989.2L669.1 1981.3L668.2 1973.3L667.4 1965.7L667 1959.3L666.9 1954L666.8 1949.3L666.9 1945L667.3 1941.2L668.2 1937.7L669.5 1934.4L671.6 1931.2L674.2 1928.2L677.3 1925.4L680.6 1923.2L683.9 1921.6L686.9 1920.7L689.9 1920.7L693.1 1921.5L696.3 1923L699.3 1924.9L702 1927.1L704.3 1929.4L706.2 1932.1L707.6 1935.1L708.7 1938.5L709.7 1942.1L710.7 1945.7L711.8 1949.3L713 1953.1L714.1 1957.1L715.2 1961.3L716.4 1965.3L717.7 1968.8L719.3 1971.7L721 1974L723 1975.9L725 1977.3L727.2 1978.3L729.4 1979L731.7 1979.2L734.3 1979.1L737.1 1978.6L740.1 1977.8L742.9 1976.4L745.1 1974.4L746.6 1971.7L747.3 1968.1L747.2 1963.5L746.6 1958.3L745.8 1952.8L744.9 1947.2L744.1 1941.9L743.3 1936.5L742.1 1931L740.9 1925.4L739.8 1919.8L739.2 1914.5L739.2 1909.5L739.8 1904.8L740.7 1900.2L742.1 1895.8L744 1891.6L746.3 1887.9L749.1 1884.6L752.6 1881.8L756.9 1879.3L761.6 1877.2L766.5 1875.6L771.6 1874.3L776.5 1873.4L781.5 1873L786.8 1873.1L792.2 1873.5L797.4 1874.4L802.2 1875.6L806.3 1877.2L809.8 1879.2L812.7 1881.6L815.2 1884.4L817.4 1887.5L819.4 1890.9L821.3 1894.6L822.9 1898.5L824.2 1902.8L825.3 1907.3L826.3 1912.1L827.4 1917L828.7 1922L830.2 1927.2L831.7 1932.9L833.2 1938.7L834.9 1944.4L836.7 1949.7L838.7 1954.3L840.9 1958.3L843.3 1962.1L845.8 1965.5L848.5 1968.3L851.1 1970.4L853.6 1971.7L856.3 1972.2L859.2 1972.1L862.2 1971.2L864.9 1969.7L867.1 1967.4L868.5 1964.2L869.2 1960.1L869.3 1955L868.8 1949.2L868.1 1942.8L867.1 1936.1L866 1929.4L864.6 1922.3L862.6 1914.5L860.5 1906.4L858.4 1898.5L856.8 1891.1L856.1 1884.6L856.1 1879.2L856.5 1874.3L857.3 1870L858.8 1866.2L860.8 1862.8L863.6 1859.8L867.2 1857.1L871.8 1854.8L876.9 1852.9L882.5 1851.5L888 1850.4L893.4 1849.8L898.8 1849.6L904.6 1849.8L910.4 1850.4L916 1851.5L921.2 1852.9L925.8 1854.8L929.6 1857.1L932.9 1859.9L935.9 1863.2L938.5 1866.8L940.9 1870.6L943.2 1874.7L945.2 1879.3L946.9 1884.5L948.5 1889.9L949.9 1895.3L951.4 1900.3L953.1 1904.5L955.1 1908.1L957.1 1911.4L959.3 1914.3L961.4 1916.7L963.5 1918.4L965.6 1919.5L967.7 1919.7L969.9 1919.4L972.1 1918.4L974.1 1916.8L975.7 1914.7L976.8 1912L977.1 1908.5L976.7 1904.2L976 1899.3L975.1 1894.1L974.5 1889.1L974.3 1884.6L974.3 1880.4L974.5 1876.2L974.7 1872L975.3 1868.2L976.4 1864.9L978 1862.2L980.2 1860.2L983 1858.7L986.2 1857.7L989.7 1857.2L993.7 1857L997.9 1857.3L1002.6 1857.9L1007.9 1858.9L1013.6 1860.4L1019.4 1862.2L1025 1864.5L1030.2 1867.2L1035.3 1870.4L1040.2 1874.1L1045.1 1878.3L1049.7 1882.7L1053.9 1887.3L1057.6 1892.1L1060.9 1897.1L1063.8 1902.6L1066.4 1908.3L1068.5 1913.9L1070.2 1919.4L1071.3 1924.4L1071.8 1929L1071.7 1933.3L1071.1 1937.3L1070.1 1941.3L1068.9 1945.3L1067.6 1949.3L1066.1 1953.6L1064.2 1958.2L1062.2 1962.7L1060 1967L1057.6 1970.9L1055.1 1974.2L1052.5 1977.1L1049.5 1979.7L1046.4 1982L1043.3 1983.6L1040.4 1984.4L1037.7 1984.1L1035.3 1982.6L1033.1 1979.9L1031 1976.4L1029 1972.4L1027.1 1968.2L1025.3 1964.2L1023.5 1960.1L1021.8 1955.5L1020.1 1950.7L1018.5 1946.2L1016.9 1942.3L1015.3 1939.4L1013.6 1937.5L1011.8 1936.4L1010 1935.9L1008.3 1936L1006.7 1936.3L1005.4 1936.9L1004.1 1937.6L1002.9 1938.4L1001.8 1939.7L1000.9 1941.4L1000.4 1943.7L1000.4 1946.8L1001 1951L1002.1 1956.2L1003.7 1962.1L1005.3 1968.1L1006.8 1974L1007.9 1979.2L1008.7 1983.9L1009.4 1988.5L1010 1992.9L1010.4 1997L1010.6 2000.7L1010.3 2004L1009.8 2006.9L1009 2009.4L1007.9 2011.5L1006.5 2013.4L1004.8 2015L1002.9 2016.5L1000.5 2017.9L997.7 2019.2L994.6 2020.2L991.5 2021L988.3 2021.4L985.5 2021.5L982.7 2021.1L980 2020.4L977.4 2019.3L974.9 2017.9L972.6 2016.1L970.5 2014L968.9 2011.6L967.6 2008.8L966.5 2005.8L965.5 2002.3L964.4 1998.4L963.1 1994.1L961.6 1988.9L960.1 1982.7L958.6 1976.1L956.9 1969.6L955.1 1963.8L953.1 1959.3L950.9 1955.9L948.5 1953.4L946 1951.5L943.4 1950.2L940.7 1949.5L938.2 1949.3L935.6 1949.7L932.8 1950.8L930 1952.4L927.3 1954.5L925 1956.8L923.3 1959.3L922 1961.9L921.1 1964.8L920.6 1968L920.4 1971.4L920.5 1975.2L920.8 1979.2L921.5 1983.6L922.7 1988.6L924.2 1993.8L925.8 1999.1L927.2 2004.2L928.2 2009L929 2013.5L929.7 2017.7L930.3 2021.8L930.6 2025.8L930.8 2029.8L930.7 2033.9L930.5 2038.2L930 2042.7L929.3 2047.1L928.4 2051.4L927.2 2055.4L925.8 2058.8L924 2061.6L922.1 2064.1L919.8 2066.2L917.3 2068L914.3 2069.7L910.8 2071.2L906.7 2072.8L901.8 2074.4L896.5 2075.8L891.1 2076.9L885.8 2077.5L881 2077.4L876.4 2076.8L871.9 2075.6L867.6 2073.9L863.5 2071.8L859.6 2069.2L856.1 2066.2L853 2062.6L850.2 2058.2L847.7 2053.4L845.4 2048.4L843.3 2043.5L841.2 2038.9L839.3 2034.4L837.6 2029.8L836 2025.4L834.5 2021.1L833 2017.3L831.2 2014L829.3 2011.3L827.3 2008.9L825.2 2007L823 2005.5L820.9 2004.5L818.8 2004L816.5 2004.1L814.1 2004.7L811.6 2005.8L809.4 2007.3L807.6 2009.2L806.3 2011.5L805.8 2014.3L805.9 2017.5L806.3 2021.2L807.1 2025.1L808 2029.4L808.8 2033.9L810 2038.9L811.5 2044.5L813.2 2050.4L814.7 2056.2L815.9 2061.6L816.3 2066.2L816.1 2070.1L815.4 2073.3L814.3 2076.2L812.8 2078.8L811 2081.2L808.8 2083.7L806.3 2086.2L803.3 2088.6L800 2091L796.4 2093.1L792.7 2094.8L788.9 2096.1L785 2097L780.6 2097.6L776.2 2097.8L771.8 2097.7L767.7 2097.1L764 2096.1L760.9 2094.6L758.1 2092.7L755.5 2090.3L753.2 2087.6L751.1 2084.6L749.1 2081.2L747.4 2077.4L746.1 2073.1L744.9 2068.4L743.9 2063.6L742.8 2058.7L741.7 2053.8L740.5 2048.8L739.4 2043.5L738.2 2038.1L737.1 2032.9L735.7 2028.1L734.2 2024L732.4 2020.3L730.4 2017L728.3 2014.2L726.1 2011.8L723.9 2010L721.8 2009L719.5 2008.8L717.1 2009.3L714.6 2010.4L712.4 2012.1L710.5 2014.1L709.3 2016.5L708.8 2019.3L708.9 2022.7L709.3 2026.4L710.1 2030.5L710.9 2034.7L711.8 2038.9L713 2043.3L714.6 2048L716.3 2052.9L717.9 2057.7L719 2062.2L719.3 2066.2L718.8 2069.9L717.7 2073.2L716.2 2076.4L714.2 2079.1L711.9 2081.6L709.3 2083.7L706.4 2085.4L703.2 2087L699.7 2088.2L695.8 2088.9L691.5 2089.1L686.9 2088.6L681.7 2087.4L675.9 2085.3L669.7 2082.7L663.4 2079.8L657.5 2076.7L652.1 2073.7L647.2 2070.7L642.6 2067.4L638.3 2064.1L634.2 2060.6L630.5 2057.2L627.2 2053.8L624.3 2050.5L621.7 2047.1L619.5 2043.7L617.6 2040.4L616.1 2037.1L614.8 2033.9L613.8 2031.1L613.1 2028.6L612.8 2026.1L612.7 2023.5L613 2020.4Z" fill="#D37BA6"/>
<polygon points="2855,455 2855,513.5 2834.5,513.5 2875,552.5 2915.5,513.5 2895,513.5 2895,455" fill="#FDBE10" stroke="#B98A12" stroke-width="1.2"/>
<polygon points="2850,946.5 2850,1020 2832.5,1020 2869,1053.5 2905.5,1020 2888,1020 2888,946.5" fill="#FDBE10" stroke="#B98A12" stroke-width="1.2"/>
<polygon points="2922.5,1404.5 2979,1404.5 2979,1418.8 3008,1391 2979,1363.2 2979,1377.5 2922.5,1377.5" fill="#FDBE10" stroke="#B98A12" stroke-width="1.2"/>
<polygon points="2896.8,1580.3 2957.5,1646.5 2944.2,1658.6 2990.5,1661 2992.1,1614.7 2978.9,1626.9 2918.2,1560.7" fill="#FDBE10" stroke="#B98A12" stroke-width="1.2"/>
<polygon points="1120,2010 1306,2010 1306,1989 1345,2029.5 1306,2069 1306,2049 1120,2049" fill="#ED1C24"/>
<path d="M1631.5 2034L1845.4 1989.3" stroke="#C55A28" stroke-width="7" fill="none"/>
<polygon points="1866,1985 1844.6,1999.7 1840.5,1980.1" fill="#C55A28"/>
<path d="M1631.5 2067.5L1846.9 2111.8" stroke="#2E75B6" stroke-width="7" fill="none"/>
<polygon points="1867.5,2116 1842,2121 1846,2101.4" fill="#2E75B6"/>
<g fill="#DDAFC6" stroke="#C986A8" stroke-width="3.4" stroke-linejoin="round"><path d="M1645.5 1071.1L1642.5 1067.1L1639.5 1062.9L1636.3 1058.8L1633.2 1054.6L1630.1 1050.6L1627.1 1046.6L1624.2 1042.7L1621.3 1039L1618.6 1035.4L1616.1 1032.1L1613.8 1029.1L1611.7 1026.4L1610.3 1023.6L1609.1 1021.1L1608 1019L1607.1 1017.2L1606.3 1015.6L1605.7 1014.2L1605.1 1012.9L1604.5 1011.4L1604.1 1009.8L1603.7 1007.9L1603.3 1005.6L1603 1003L1602.9 1000.3L1602.9 997.3L1603.1 994.1L1603.3 990.7L1603.7 987.2L1604.1 983.5L1604.6 979.8L1605.1 976L1605.7 972.3L1606.3 968.5L1606.9 964.7L1607.5 961.1L1608.1 957.6L1608.9 954.1L1609.7 950.5L1610.6 946.9L1611.6 943.2L1612.5 939.6L1613.5 935.8L1614.5 932.1L1615.4 928.3L1616.3 924.5L1617.1 920.6L1617.8 916.8L1618.3 912.9L1618.6 909.1L1618.9 905.3L1619.2 901.6L1619.4 897.9L1619.6 894.2L1619.7 890.5L1619.8 886.8L1620 883.1L1620.1 879.5L1620.2 875.8L1620.4 872.2L1615.4 871.5L1614.6 875.1L1613.8 878.7L1613.1 882.3L1612.4 885.9L1611.6 889.5L1610.9 893.1L1610.1 896.7L1609.4 900.2L1608.5 903.7L1607.7 907.2L1606.7 910.7L1605.7 914.1L1604.7 917.5L1603.6 921L1602.4 924.4L1601.1 927.9L1599.7 931.4L1598.4 934.9L1597 938.5L1595.6 942.1L1594.2 945.8L1592.9 949.5L1591.7 953.3L1590.5 957.1L1589.5 960.8L1588.4 964.5L1587.4 968.4L1586.3 972.2L1585.3 976.1L1584.4 980L1583.5 983.9L1582.7 987.7L1582 991.5L1581.4 995.2L1580.9 998.8L1580.5 1002.3L1580.1 1005.5L1579.7 1008.3L1579.5 1011.1L1579.3 1013.9L1579.3 1016.6L1579.4 1019.3L1579.7 1022.1L1580 1024.8L1580.5 1027.6L1581.1 1030.6L1581.8 1033.7L1582.7 1037.2L1583.3 1041.3L1584.1 1045.8L1585 1050.5L1586.1 1055.3L1587.3 1060.2L1588.6 1065.1L1590 1070.1L1591.3 1075.1L1592.6 1080.1L1593.9 1084.9L1595.1 1089.6L1596.2 1094.3Z"/><path d="M1602.5 938.7L1601.3 936.6L1600.2 934.5L1599.1 932.4L1597.9 930.2L1596.8 927.9L1595.6 925.7L1594.4 923.4L1593.2 921.2L1591.8 919L1590.4 916.9L1588.9 914.9L1587.2 913L1585.4 911.3L1583.5 909.7L1581.5 908.3L1579.5 906.9L1577.4 905.7L1575.4 904.5L1573.3 903.4L1571.2 902.4L1569.2 901.5L1567.3 900.6L1565.4 899.7L1563.7 899L1561.9 898.2L1560.2 897.6L1558.5 897L1556.9 896.6L1555.3 896.2L1553.8 895.8L1552.2 895.5L1550.7 895.2L1549.2 894.9L1547.7 894.6L1546.2 894.2L1544.7 893.8L1544.3 894.9L1545.8 895.5L1547.2 896.1L1548.7 896.7L1550.1 897.3L1551.5 897.8L1552.9 898.4L1554.4 899L1555.8 899.7L1557.2 900.3L1558.7 901.1L1560.1 901.9L1561.7 902.8L1563.3 903.8L1565.1 904.9L1566.8 906L1568.7 907.1L1570.5 908.2L1572.3 909.5L1574.1 910.7L1575.8 912.1L1577.5 913.4L1579 914.9L1580.5 916.3L1581.8 917.8L1582.9 919.4L1584.1 921.2L1585.1 923L1586.2 925L1587.1 927.1L1588.1 929.3L1589.1 931.5L1590 933.8L1591 936.1L1592 938.5L1593 940.8L1594.1 943.1Z"/><path d="M1606.7 998.7L1608.2 997.2L1609.8 995.6L1611.3 994L1612.8 992.5L1614.2 991L1615.5 989.5L1616.9 988.1L1618.3 986.6L1619.8 985.3L1621.2 983.9L1622.8 982.6L1624.5 981.3L1626.3 980.1L1628.2 978.9L1630.2 977.8L1632.4 976.7L1634.6 975.6L1637 974.4L1639.4 973.2L1642 971.9L1644.6 970.6L1647.3 969.1L1650 967.6L1652.8 965.9L1655.6 964.3L1658.5 962.5L1661.6 960.7L1664.9 958.9L1668.2 956.9L1671.6 954.9L1674.9 952.8L1678.2 950.6L1681.4 948.3L1684.4 945.9L1687.3 943.4L1689.9 940.8L1692.2 938.1L1694.3 935.3L1696.3 932.4L1698.2 929.5L1699.9 926.5L1701.5 923.4L1702.9 920.4L1704.2 917.3L1705.3 914.2L1706.2 911.2L1707 908.2L1707.6 905.2L1708 902.3L1708 899.3L1707.8 896.4L1707.4 893.6L1706.9 890.8L1706.3 888.2L1705.6 885.5L1704.8 882.9L1704.1 880.3L1703.4 877.7L1702.8 875.1L1702.3 872.5L1700.8 872.6L1700.9 875.3L1701.1 878.1L1701.4 880.8L1701.7 883.5L1702.1 886.2L1702.3 888.8L1702.5 891.4L1702.6 894L1702.6 896.6L1702.3 899L1701.9 901.4L1701.2 903.8L1700.4 906.3L1699.5 908.9L1698.3 911.5L1697.1 914.1L1695.7 916.8L1694.1 919.4L1692.5 922L1690.7 924.5L1688.8 927L1686.8 929.3L1684.8 931.6L1682.6 933.7L1680.4 935.7L1677.9 937.7L1675.2 939.7L1672.2 941.7L1669.2 943.6L1666 945.5L1662.7 947.4L1659.4 949.2L1656.2 950.9L1653 952.6L1649.9 954.2L1647 955.8L1644.4 957.2L1641.8 958.5L1639.3 959.6L1636.7 960.7L1634.2 961.8L1631.7 962.8L1629.3 963.8L1626.8 964.8L1624.4 965.9L1621.9 967L1619.5 968.3L1617.2 969.6L1614.9 970.9L1612.7 972.2L1610.6 973.5L1608.7 974.8L1606.8 976.2L1605 977.5L1603.2 978.8L1601.6 980L1599.9 981.3L1598.3 982.5L1596.7 983.6L1595 984.8Z"/><path d="M1754.5 1139.4L1757.4 1136.5L1760.4 1133.7L1763.5 1130.8L1766.6 1127.9L1769.8 1124.9L1773.1 1122L1776.4 1118.9L1779.6 1115.9L1782.9 1112.8L1786.1 1109.7L1789.2 1106.5L1792.2 1103.3L1795.4 1101L1798.5 1098.7L1801.6 1096.4L1804.6 1094.1L1807.6 1091.8L1810.6 1089.4L1813.5 1086.9L1816.5 1084.3L1819.4 1081.7L1822.4 1078.9L1825.3 1075.9L1828.3 1072.8L1831.4 1069.6L1834.5 1066.1L1837.6 1062.6L1840.6 1058.9L1843.7 1055.2L1846.6 1051.4L1849.6 1047.6L1852.4 1043.9L1855.2 1040.2L1858 1036.6L1860.6 1033.1L1863.1 1029.8L1865.7 1026.5L1868.2 1023.3L1870.8 1020.1L1873.2 1016.9L1875.7 1013.7L1878 1010.6L1880.3 1007.5L1882.6 1004.5L1884.7 1001.6L1886.8 998.7L1888.7 996L1890.5 993.3L1892.2 990.7L1893.8 988.3L1895.2 986L1896.5 983.7L1897.7 981.6L1898.8 979.5L1899.9 977.5L1901 975.5L1902 973.5L1903 971.5L1904.1 969.5L1905.3 967.4L1899.8 963.8L1898.3 965.7L1896.9 967.6L1895.5 969.4L1894.2 971.2L1892.9 973L1891.5 974.8L1890.1 976.6L1888.7 978.4L1887.2 980.4L1885.5 982.3L1883.8 984.4L1881.9 986.6L1879.8 989L1877.6 991.4L1875.3 993.9L1872.9 996.5L1870.4 999.2L1867.8 1001.9L1865.1 1004.7L1862.4 1007.5L1859.6 1010.4L1856.8 1013.3L1854 1016.3L1851.1 1019.2L1848.1 1022.3L1845 1025.5L1841.8 1028.7L1838.6 1032L1835.4 1035.4L1832.2 1038.7L1828.9 1042L1825.7 1045.1L1822.5 1048.2L1819.3 1051L1816.2 1053.7L1813.2 1056.1L1810.2 1058.3L1807.2 1060.3L1804.3 1062.2L1801.4 1064L1798.5 1065.7L1795.5 1067.3L1792.6 1068.9L1789.5 1070.4L1786.4 1071.9L1783.3 1073.4L1780 1075L1776.6 1076.6L1772.8 1077.3L1769 1077.9L1765.2 1078.5L1761.2 1079L1757.1 1079.6L1753 1080.2L1748.8 1080.7L1744.6 1081.3L1740.3 1082L1735.9 1082.6L1731.4 1083.3L1727.1 1084Z"/><path d="M1904.8 966.9L1904.3 966.2L1903.8 965.5L1903.4 964.7L1902.9 963.9L1902.5 963.1L1902 962.3L1901.5 961.5L1901 960.7L1900.4 959.9L1899.8 959.1L1899.1 958.4L1898.3 957.7L1897.5 957.2L1896.7 956.7L1895.8 956.3L1895 956L1894.1 955.7L1893.2 955.5L1892.4 955.3L1891.5 955.1L1890.7 954.9L1889.9 954.7L1889 954.4L1888.2 954.2L1887.8 955.2L1888.5 955.6L1889.3 956.1L1890.1 956.5L1890.8 956.9L1891.6 957.3L1892.4 957.7L1893.1 958.1L1893.7 958.5L1894.4 958.9L1894.9 959.4L1895.4 959.9L1895.9 960.4L1896.3 960.9L1896.7 961.5L1897.1 962.1L1897.4 962.8L1897.8 963.5L1898.1 964.3L1898.5 965.1L1898.8 966L1899.2 966.8L1899.5 967.7L1899.9 968.6L1900.4 969.4Z"/><path d="M1902.9 970.7L1903.6 970.2L1904.3 969.7L1905 969.2L1905.7 968.6L1906.3 968.2L1906.9 967.7L1907.5 967.2L1908.1 966.8L1908.7 966.4L1909.3 966.1L1909.9 965.8L1910.5 965.5L1911.1 965.2L1911.7 965L1912.4 964.7L1913.1 964.5L1913.9 964.3L1914.7 964.2L1915.5 964L1916.3 963.9L1917.2 963.7L1918 963.6L1918.9 963.4L1919.7 963.2L1919.6 962.2L1918.8 962.1L1918 962L1917.1 961.8L1916.3 961.7L1915.5 961.6L1914.6 961.4L1913.8 961.3L1912.9 961.3L1912 961.2L1911.1 961.2L1910.1 961.2L1909.2 961.3L1908.3 961.6L1907.4 961.9L1906.6 962.2L1905.7 962.6L1905 963L1904.2 963.4L1903.5 963.8L1902.7 964.2L1902 964.6L1901.3 965L1900.7 965.3L1900 965.6Z"/><path d="M1857.2 1037.2L1859 1035.8L1860.7 1034.4L1862.5 1033L1864.1 1031.6L1865.7 1030.2L1867.4 1028.9L1869 1027.6L1870.6 1026.3L1872.2 1025.1L1873.9 1024L1875.6 1022.9L1877.5 1021.8L1879.5 1020.8L1881.6 1019.8L1883.6 1018.9L1885.7 1018L1887.8 1017.1L1890 1016.2L1892.2 1015.5L1894.5 1014.7L1896.9 1014.1L1899.5 1013.5L1902.1 1012.9L1904.9 1012.5L1907.9 1012.1L1911 1011.8L1914.3 1011.6L1917.8 1011.5L1921.5 1011.4L1925.2 1011.4L1929 1011.4L1932.8 1011.4L1936.6 1011.5L1940.5 1011.5L1944.3 1011.5L1948 1011.4L1948 1004.9L1944.4 1004.7L1940.6 1004.6L1936.9 1004.4L1933 1004.2L1929.2 1004L1925.4 1003.8L1921.6 1003.6L1917.8 1003.5L1914.2 1003.4L1910.6 1003.4L1907.2 1003.6L1903.9 1003.8L1900.7 1004.2L1897.7 1004.7L1894.9 1005.2L1892.1 1005.8L1889.5 1006.5L1887 1007.3L1884.5 1008.1L1882.1 1008.9L1879.8 1009.8L1877.6 1010.7L1875.3 1011.7L1873.1 1012.6L1870.8 1013.6L1868.6 1014.7L1866.5 1015.8L1864.4 1017L1862.4 1018.2L1860.5 1019.4L1858.7 1020.7L1856.9 1021.9L1855.1 1023L1853.3 1024.2L1851.6 1025.3L1849.8 1026.4Z"/><path d="M1829.2 1075L1831.4 1075.5L1833.5 1076L1835.5 1076.5L1837.5 1077L1839.5 1077.4L1841.5 1077.9L1843.6 1078.4L1845.7 1078.9L1847.9 1079.5L1850.3 1080.1L1852.8 1080.8L1855.4 1081.6L1858.2 1082.5L1861.2 1083.6L1864.3 1084.7L1867.5 1085.9L1870.9 1087.1L1874.3 1088.3L1877.9 1089.6L1881.5 1090.9L1885.1 1092.1L1888.8 1093.4L1892.5 1094.5L1896.2 1095.6L1900 1096.6L1903.8 1097.5L1907.7 1098.4L1911.6 1099.3L1915.5 1100.2L1919.5 1101L1923.5 1101.8L1927.5 1102.6L1931.5 1103.4L1935.5 1104.2L1939.5 1105.1L1943.5 1105.9L1943.8 1104.5L1940 1103.3L1936.1 1102.1L1932.2 1101L1928.2 1099.8L1924.3 1098.6L1920.4 1097.5L1916.5 1096.3L1912.7 1095.1L1908.9 1093.9L1905.2 1092.6L1901.6 1091.4L1898 1090.1L1894.5 1088.7L1891 1087.3L1887.5 1085.9L1884 1084.4L1880.6 1082.8L1877.2 1081.3L1873.9 1079.8L1870.7 1078.2L1867.6 1076.8L1864.5 1075.4L1861.6 1074L1858.8 1072.8L1856.2 1071.6L1853.8 1070.5L1851.6 1069.4L1849.4 1068.4L1847.4 1067.5L1845.5 1066.6L1843.6 1065.7L1841.7 1064.8L1839.9 1064L1838 1063.1L1836.1 1062.2L1834.1 1061.3Z"/><path d="M1723.1 1195.4L1726.3 1198.2L1729.5 1201.1L1732.8 1204L1736.1 1206.9L1739.3 1209.8L1742.5 1212.7L1745.7 1215.5L1748.9 1218.3L1752 1221L1755 1223.6L1757.9 1226.2L1760.8 1228.7L1763.3 1231.3L1765.7 1233.8L1768 1236.3L1770.3 1238.6L1772.5 1240.9L1774.7 1243.1L1776.8 1245.4L1778.9 1247.6L1781 1249.8L1783.1 1252.1L1785.2 1254.5L1787.2 1256.8L1788.8 1259L1790.2 1261.3L1791.6 1263.9L1793 1266.7L1794.5 1269.7L1796.2 1272.9L1798 1276.2L1800 1279.7L1802.3 1283.3L1805 1286.8L1808 1290.3L1811.5 1293.7L1815.2 1296.8L1819.2 1299.8L1823.4 1302.8L1827.9 1305.8L1832.5 1308.6L1837.2 1311.4L1841.9 1314.1L1846.7 1316.7L1851.4 1319.2L1856 1321.4L1860.5 1323.5L1864.8 1325.5L1868.9 1327.3L1873 1328.9L1877.1 1330.3L1881.1 1331.5L1885 1332.6L1888.9 1333.6L1892.6 1334.5L1896.3 1335.3L1899.9 1336.1L1903.4 1336.8L1906.9 1337.6L1910.2 1338.4L1913.6 1339.2L1916.8 1340L1920 1340.7L1923.2 1341.4L1926.2 1342L1929.3 1342.6L1932.3 1343.2L1935.2 1343.8L1938.2 1344.3L1941.2 1344.9L1944.2 1345.5L1947.2 1346.1L1948.8 1339.8L1945.8 1338.9L1942.9 1338L1940 1337.1L1937.1 1336.2L1934.2 1335.4L1931.3 1334.5L1928.4 1333.6L1925.4 1332.7L1922.4 1331.7L1919.4 1330.8L1916.3 1329.7L1913.1 1328.6L1909.7 1327.4L1906.3 1326.3L1902.8 1325.2L1899.4 1324.1L1895.9 1322.9L1892.4 1321.8L1888.9 1320.5L1885.4 1319.1L1881.9 1317.7L1878.4 1316.1L1874.8 1314.4L1871.3 1312.5L1867.6 1310.2L1863.6 1307.8L1859.5 1305.1L1855.3 1302.3L1851 1299.5L1846.8 1296.5L1842.8 1293.5L1838.9 1290.4L1835.2 1287.4L1831.8 1284.4L1828.9 1281.5L1826.4 1278.8L1824.5 1276.3L1822.9 1273.9L1821.6 1271.4L1820.4 1268.8L1819.3 1266.1L1818.3 1263.2L1817.3 1260.2L1816.3 1257.1L1815.2 1253.7L1813.9 1250.2L1812.4 1246.6L1810.7 1243L1809.3 1239.6L1807.9 1236.5L1806.6 1233.4L1805.3 1230.4L1803.9 1227.4L1802.6 1224.4L1801.2 1221.4L1799.7 1218.3L1798.3 1215.3L1796.8 1212.2L1795.2 1209L1793.5 1205.7L1792 1202L1790.4 1198.2L1788.8 1194.4L1787.1 1190.5L1785.4 1186.5L1783.6 1182.6L1781.8 1178.6L1780 1174.6L1778.2 1170.7L1776.4 1166.7L1774.7 1162.8L1773 1159Z"/><path d="M1858.3 1319.9L1860.3 1319.4L1862.3 1318.9L1864.3 1318.5L1866.4 1318L1868.4 1317.5L1870.5 1317L1872.6 1316.5L1874.8 1316L1877 1315.4L1879.2 1314.8L1881.5 1314.1L1883.8 1313.3L1886.1 1312.6L1888.5 1311.8L1890.9 1311L1893.3 1310.1L1895.8 1309.2L1898.3 1308.3L1900.7 1307.4L1903.2 1306.4L1905.7 1305.4L1908.1 1304.4L1910.6 1303.4L1913 1302.3L1915.4 1301.3L1917.7 1300.1L1920.1 1299L1922.4 1297.8L1924.8 1296.6L1927.1 1295.4L1929.4 1294.2L1931.7 1293L1934 1291.8L1936.3 1290.6L1938.6 1289.4L1940.9 1288.2L1939.1 1284.2L1936.7 1285.2L1934.3 1286.2L1931.9 1287.2L1929.5 1288.2L1927 1289.2L1924.7 1290.1L1922.3 1291.1L1919.9 1292.1L1917.5 1293L1915.1 1293.9L1912.7 1294.7L1910.3 1295.6L1907.9 1296.4L1905.5 1297.3L1903 1298.1L1900.5 1298.9L1898 1299.7L1895.6 1300.4L1893.1 1301.1L1890.7 1301.8L1888.3 1302.5L1885.9 1303.1L1883.6 1303.7L1881.4 1304.2L1879.2 1304.6L1877 1304.9L1874.9 1305.2L1872.8 1305.5L1870.8 1305.7L1868.7 1305.9L1866.6 1306.1L1864.5 1306.2L1862.4 1306.4L1860.3 1306.6L1858.1 1306.8L1856 1307.1Z"/><path d="M1941.1 1288.3L1941.1 1287.5L1941.1 1286.8L1941.2 1286L1941.2 1285.2L1941.3 1284.4L1941.3 1283.7L1941.3 1282.9L1941.4 1282.1L1941.4 1281.4L1941.4 1280.6L1941.4 1279.9L1941.5 1279.1L1941.4 1278.4L1941.4 1277.7L1941.4 1277L1941.4 1276.3L1941.3 1275.6L1941.3 1275L1941.3 1274.3L1941.2 1273.7L1941.2 1273L1941.2 1272.3L1941.1 1271.7L1941.1 1271L1940.4 1270.9L1940.2 1271.6L1940.1 1272.2L1939.9 1272.9L1939.8 1273.5L1939.6 1274.2L1939.5 1274.8L1939.3 1275.5L1939.2 1276.1L1939 1276.8L1938.9 1277.4L1938.7 1278.1L1938.6 1278.8L1938.4 1279.5L1938.3 1280.2L1938.1 1281L1938 1281.7L1937.8 1282.5L1937.7 1283.2L1937.5 1284L1937.4 1284.7L1937.2 1285.5L1937.1 1286.3L1936.9 1287L1936.7 1287.8Z"/><path d="M1937.4 1288.2L1937.9 1288.6L1938.4 1288.9L1939 1289.2L1939.5 1289.5L1940 1289.8L1940.5 1290.1L1941 1290.4L1941.5 1290.6L1941.9 1290.9L1942.3 1291.2L1942.6 1291.5L1942.9 1291.7L1943.3 1292L1943.6 1292.3L1943.9 1292.6L1944.2 1293L1944.4 1293.4L1944.7 1293.8L1945 1294.3L1945.3 1294.7L1945.5 1295.2L1945.8 1295.7L1946.1 1296.2L1946.4 1296.6L1947.4 1296.2L1947.3 1295.7L1947.2 1295.2L1947.2 1294.6L1947.1 1294.1L1947 1293.6L1946.9 1293L1946.8 1292.4L1946.7 1291.9L1946.5 1291.3L1946.4 1290.7L1946.1 1290.1L1945.8 1289.5L1945.4 1288.9L1945 1288.4L1944.5 1287.9L1944.1 1287.4L1943.6 1287L1943.1 1286.6L1942.6 1286.1L1942.2 1285.7L1941.7 1285.4L1941.3 1285L1940.9 1284.6L1940.5 1284.2Z"/><path d="M1791.9 1258.9L1791.3 1262.9L1790.6 1267L1790 1271.2L1789.3 1275.4L1788.6 1279.7L1787.9 1283.9L1787.2 1288.1L1786.6 1292.2L1786 1296.2L1785.5 1300L1785.1 1303.7L1784.8 1307.2L1784.5 1310.3L1784.3 1313.2L1784.1 1316L1784.1 1318.5L1784 1321L1784.1 1323.3L1784.1 1325.6L1784.3 1327.9L1784.4 1330.2L1784.6 1332.5L1784.9 1334.9L1785.1 1337.4L1785.5 1340.1L1785.9 1342.8L1786.3 1345.6L1786.8 1348.4L1787.3 1351.3L1787.8 1354.1L1788.4 1356.9L1789 1359.7L1789.7 1362.5L1790.4 1365.2L1791 1367.9L1791.8 1370.5L1792.5 1373L1793.4 1375.5L1794.2 1377.9L1795.1 1380.3L1796 1382.6L1797 1384.9L1797.9 1387.1L1798.9 1389.4L1799.8 1391.6L1800.8 1393.9L1801.7 1396.1L1802.6 1398.4L1804 1398L1803.4 1395.6L1802.9 1393.2L1802.2 1390.8L1801.6 1388.4L1801 1386.1L1800.4 1383.7L1799.8 1381.4L1799.3 1379L1798.8 1376.6L1798.3 1374.2L1797.8 1371.7L1797.4 1369.2L1797 1366.6L1796.7 1364L1796.3 1361.3L1796 1358.5L1795.7 1355.8L1795.4 1353L1795.2 1350.2L1795 1347.4L1794.8 1344.7L1794.7 1342L1794.6 1339.4L1794.6 1336.8L1794.6 1334.4L1794.6 1332.1L1794.6 1329.9L1794.7 1327.8L1794.8 1325.7L1795 1323.7L1795.2 1321.6L1795.4 1319.4L1795.7 1317.1L1796.1 1314.6L1796.6 1311.9L1797.1 1308.9L1797.8 1305.8L1798.6 1302.4L1799.6 1298.8L1800.6 1295.1L1801.7 1291.2L1802.8 1287.2L1803.9 1283.1L1805.1 1279L1806.3 1274.8L1807.4 1270.7L1808.6 1266.6L1809.7 1262.7Z"/><path d="M1647.5 1206.6L1646.9 1211.4L1646.3 1216.4L1645.8 1221.3L1645.3 1226.2L1644.9 1230.9L1644.5 1235.4L1644.2 1239.9L1643.8 1244.1L1643.5 1248.2L1643.2 1252L1642.9 1255.5L1642.6 1258.9L1641.3 1261.5L1640.1 1264.1L1638.8 1266.5L1637.5 1268.7L1636.1 1270.9L1634.7 1273L1633.2 1275.1L1631.6 1277.3L1629.9 1279.4L1628 1281.6L1626.1 1283.8L1624 1286.1L1621.9 1288.2L1619.8 1290.1L1617.6 1292L1615.3 1293.9L1613 1295.8L1610.6 1297.6L1608.2 1299.4L1605.6 1301.3L1602.9 1303.2L1600.2 1305.1L1597.3 1307L1594.4 1308.9L1591.4 1310.7L1588.2 1312.5L1584.7 1314.3L1581 1316.1L1577.2 1318L1573.4 1319.9L1569.4 1321.9L1565.5 1323.8L1561.7 1325.9L1558 1328.1L1554.4 1330.3L1551.1 1332.6L1548.1 1335L1545.2 1337.4L1542.5 1339.9L1539.8 1342.4L1537.3 1344.9L1535 1347.5L1532.7 1350.1L1530.6 1352.7L1528.6 1355.3L1526.8 1358L1525.1 1360.6L1523.5 1363.3L1522.1 1366.1L1520.9 1369L1520 1371.8L1519.2 1374.6L1518.7 1377.3L1518.2 1380L1517.8 1382.6L1517.5 1385.2L1517.1 1387.7L1516.8 1390.2L1516.4 1392.7L1515.9 1395.1L1522.2 1396.9L1523.1 1394.4L1523.9 1391.8L1524.6 1389.3L1525.3 1386.8L1526 1384.3L1526.7 1381.9L1527.4 1379.6L1528.3 1377.3L1529.2 1375.2L1530.2 1373.1L1531.4 1371.1L1532.8 1369.1L1534.3 1367L1536.1 1365L1537.9 1362.9L1539.9 1360.8L1542 1358.7L1544.2 1356.7L1546.6 1354.7L1549 1352.7L1551.5 1350.8L1554.2 1348.9L1556.9 1347L1559.7 1345.3L1562.6 1343.6L1565.7 1341.9L1569.1 1340.3L1572.7 1338.7L1576.5 1337.1L1580.4 1335.5L1584.3 1333.9L1588.3 1332.3L1592.3 1330.6L1596.2 1328.9L1600 1327.2L1603.6 1325.4L1607 1323.7L1610.2 1322.1L1613.3 1320.5L1616.4 1318.8L1619.4 1317.2L1622.4 1315.5L1625.3 1313.8L1628.2 1312.1L1631.1 1310.3L1633.9 1308.4L1636.7 1306.5L1639.4 1304.5L1642.2 1302.8L1644.8 1301.1L1647.5 1299.3L1650.2 1297.5L1652.9 1295.6L1655.6 1293.5L1658.3 1291.3L1661 1288.9L1663.7 1286.4L1666.4 1283.6L1669.1 1280.6L1671.8 1277.3L1675.4 1274.1L1678.9 1270.7L1682.3 1267.1L1685.6 1263.5L1688.9 1259.7L1692.1 1255.9L1695.3 1252.1L1698.4 1248.4L1701.5 1244.8L1704.5 1241.4L1707.4 1238.2L1710.5 1235Z"/><path d="M1618.6 1304.4L1617.8 1307.3L1617.1 1310.2L1616.2 1313.1L1615.4 1316L1614.5 1319L1613.7 1322L1612.8 1325L1612.1 1328L1611.4 1331L1610.8 1334.1L1610.3 1337.1L1610 1340.2L1609.7 1343.2L1609.7 1346.2L1609.7 1349.2L1609.8 1352.1L1610 1355L1610.3 1357.9L1610.6 1360.7L1611 1363.4L1611.4 1366.1L1611.8 1368.7L1612.1 1371.3L1612.5 1373.8L1612.8 1376.2L1613.2 1378.5L1613.6 1380.8L1614.1 1383.1L1614.6 1385.2L1615 1387.3L1615.5 1389.4L1616 1391.5L1616.5 1393.6L1617 1395.7L1617.5 1397.8L1617.9 1399.9L1620.8 1399.4L1620.6 1397.2L1620.3 1395.1L1620.1 1393L1619.8 1390.8L1619.6 1388.7L1619.3 1386.6L1619.1 1384.5L1618.9 1382.3L1618.7 1380.1L1618.5 1377.9L1618.4 1375.6L1618.3 1373.2L1618.2 1370.7L1618 1368.1L1617.9 1365.5L1617.8 1362.8L1617.6 1360.1L1617.6 1357.4L1617.5 1354.7L1617.6 1352L1617.7 1349.3L1617.9 1346.6L1618.2 1344L1618.6 1341.4L1619.2 1338.8L1619.9 1336.2L1620.7 1333.5L1621.6 1330.8L1622.6 1328L1623.7 1325.3L1624.8 1322.5L1625.9 1319.6L1627.1 1316.8L1628.2 1313.9L1629.3 1310.9L1630.4 1308Z"/><path d="M1601.2 1121.3L1597.7 1123.1L1594.1 1124.9L1590.5 1126.7L1586.9 1128.6L1583.2 1130.4L1579.6 1132.2L1576.1 1134.1L1572.6 1135.9L1569.3 1137.7L1566 1139.4L1563 1141.2L1560.1 1142.8L1557.3 1143.6L1554.7 1144.4L1552.2 1145.1L1549.9 1145.8L1547.5 1146.5L1545.3 1147.2L1543 1147.9L1540.8 1148.5L1538.5 1149.3L1536.2 1150L1533.8 1150.8L1531.3 1151.6L1528.6 1152.2L1525.9 1153L1523.3 1153.8L1520.9 1154.6L1518.6 1155.3L1516.4 1156.1L1514.2 1156.8L1512.1 1157.4L1510.1 1157.9L1508 1158.4L1506 1158.8L1503.8 1159L1501.5 1159.3L1499.1 1159.6L1496.6 1159.8L1493.9 1159.9L1491.2 1159.9L1488.4 1159.9L1485.4 1159.8L1482.4 1159.7L1479.2 1159.6L1476 1159.4L1472.6 1159.2L1469.1 1159.1L1465.7 1158.9L1462.1 1158.6L1458.5 1158.3L1454.7 1157.9L1450.9 1157.6L1446.9 1157.2L1442.9 1156.7L1438.8 1156.3L1434.6 1155.9L1430.4 1155.5L1426 1155.1L1421.6 1154.7L1417 1154.4L1412.4 1154.2L1407.6 1153.9L1402.7 1153.7L1397.8 1153.4L1392.8 1153.2L1387.8 1152.9L1382.8 1152.7L1377.8 1152.5L1372.7 1152.2L1367.8 1152L1362.8 1151.7L1362.6 1153.9L1367.4 1154.8L1372.3 1155.7L1377.3 1156.6L1382.2 1157.5L1387.2 1158.4L1392.1 1159.3L1397 1160.2L1401.9 1161.1L1406.6 1162L1411.3 1162.9L1415.8 1163.9L1420.2 1164.8L1424.5 1165.6L1428.7 1166.5L1432.8 1167.4L1436.9 1168.3L1440.9 1169.2L1444.8 1170.1L1448.7 1171L1452.5 1171.8L1456.2 1172.7L1459.9 1173.5L1463.6 1174.2L1467.1 1174.9L1470.6 1175.6L1473.9 1176.3L1477.1 1176.9L1480.3 1177.5L1483.4 1178.2L1486.5 1178.7L1489.6 1179.2L1492.7 1179.7L1495.8 1180.1L1498.9 1180.4L1502 1180.7L1505.1 1180.8L1508.4 1180.6L1511.5 1180.3L1514.5 1179.8L1517.3 1179.3L1520 1178.7L1522.6 1178.1L1525.1 1177.5L1527.4 1176.9L1529.6 1176.4L1531.7 1175.9L1533.8 1175.5L1535.9 1175.1L1538.1 1175.1L1540.3 1175.1L1542.5 1175.1L1544.7 1175.2L1546.9 1175.2L1549.1 1175.3L1551.5 1175.3L1553.9 1175.4L1556.5 1175.4L1559.2 1175.3L1562.1 1175.3L1565.2 1175.2L1568.6 1175.8L1572.1 1176.5L1575.8 1177.1L1579.6 1177.7L1583.5 1178.3L1587.5 1178.9L1591.5 1179.4L1595.5 1180L1599.6 1180.5L1603.6 1181.1L1607.5 1181.6L1611.4 1182.2Z"/><path d="M1506.2 1161L1503.5 1161.8L1500.9 1162.6L1498.3 1163.4L1495.7 1164.1L1493 1164.9L1490.4 1165.7L1487.7 1166.5L1485 1167.3L1482.2 1168.1L1479.4 1169L1476.6 1169.9L1473.8 1170.8L1471 1171.7L1468.2 1172.4L1465.3 1173.2L1462.3 1174L1459.2 1174.8L1456.1 1175.6L1452.9 1176.6L1449.6 1177.6L1446.4 1178.9L1443.1 1180.2L1439.9 1181.8L1436.6 1183.6L1433.4 1185.7L1430.3 1188L1427.2 1190.5L1424.2 1193.1L1421.2 1195.8L1418.2 1198.5L1415.3 1201.3L1412.4 1204.1L1409.5 1206.9L1406.6 1209.5L1403.7 1212.1L1400.7 1214.5L1397.8 1217L1394.8 1219.4L1391.8 1221.8L1388.7 1224.1L1385.7 1226.4L1382.6 1228.8L1379.5 1231.1L1376.5 1233.4L1373.4 1235.7L1370.3 1238.1L1367.2 1240.4L1364.1 1242.7L1364.9 1243.9L1368.2 1241.9L1371.6 1240L1374.9 1238L1378.2 1236L1381.5 1234.1L1384.9 1232.1L1388.2 1230.1L1391.5 1228.1L1394.8 1226.1L1398.1 1224L1401.4 1221.9L1404.7 1219.8L1407.9 1217.5L1411.2 1215L1414.4 1212.5L1417.5 1209.9L1420.7 1207.4L1423.8 1204.8L1426.8 1202.4L1429.8 1200L1432.8 1197.8L1435.8 1195.8L1438.7 1194.1L1441.5 1192.5L1444.3 1191.2L1447.2 1190.1L1450.1 1189.1L1453 1188.3L1455.9 1187.6L1458.9 1186.9L1461.8 1186.3L1464.9 1185.8L1467.9 1185.3L1470.9 1184.7L1474 1184.1L1477 1183.5L1479.9 1183L1482.7 1182.5L1485.5 1182.1L1488.2 1181.7L1490.9 1181.3L1493.6 1181L1496.3 1180.6L1499 1180.3L1501.8 1179.9L1504.5 1179.6L1507.3 1179.2L1510.1 1178.8Z"/><path d="M1542.1 1146.4L1539.1 1145.1L1536.1 1143.9L1533.2 1142.7L1530.2 1141.5L1527.4 1140.4L1524.5 1139.3L1521.8 1138.1L1519 1136.9L1516.3 1135.7L1513.7 1134.4L1511.1 1133.1L1508.5 1131.6L1506 1129.9L1503.5 1128.2L1501.1 1126.4L1498.7 1124.7L1496.4 1123L1494.1 1121.1L1491.8 1119.2L1489.5 1117.1L1487.1 1114.8L1484.7 1112.3L1482.3 1109.6L1479.7 1106.6L1477.2 1103.3L1474.5 1099.7L1471.8 1095.7L1469 1091.4L1466.2 1087L1463.4 1082.4L1460.5 1077.8L1457.6 1073.1L1454.7 1068.4L1451.8 1063.8L1448.9 1059.3L1446.1 1055L1443.2 1050.9L1440.4 1046.6L1437.5 1042.3L1434.6 1038.1L1431.6 1033.8L1428.7 1029.6L1425.9 1025.5L1423 1021.6L1420.2 1017.8L1417.5 1014.3L1414.8 1011L1412.2 1008.1L1409.6 1005.4L1407.2 1003L1404.8 1000.9L1402.4 999L1400.2 997.3L1397.9 995.8L1395.8 994.4L1393.6 993.1L1391.6 991.9L1389.5 990.8L1387.5 989.6L1385.5 988.4L1383.5 987.3L1381.5 986.2L1379.5 985.3L1377.6 984.4L1375.7 983.6L1373.9 982.9L1372.1 982.2L1370.2 981.5L1368.4 980.8L1366.6 980.1L1364.8 979.3L1363 978.6L1362.5 979.5L1364.2 980.5L1366 981.5L1367.7 982.4L1369.5 983.2L1371.2 984.1L1372.9 985L1374.6 985.9L1376.4 986.9L1378.1 987.9L1379.9 989L1381.7 990.2L1383.6 991.5L1385.5 992.8L1387.4 994.1L1389.4 995.5L1391.3 996.8L1393.2 998.2L1395.2 999.6L1397.2 1001.2L1399.2 1002.9L1401.3 1004.8L1403.4 1006.9L1405.5 1009.2L1407.8 1011.9L1410.1 1014.8L1412.6 1018.1L1415.1 1021.6L1417.7 1025.4L1420.3 1029.3L1423 1033.5L1425.7 1037.7L1428.5 1042L1431.2 1046.4L1434 1050.8L1436.7 1055.1L1439.3 1059.4L1441.9 1063.7L1444.6 1068.2L1447.2 1072.8L1449.9 1077.6L1452.5 1082.4L1455.2 1087.2L1457.9 1092L1460.5 1096.6L1463.2 1101.1L1465.8 1105.4L1468.5 1109.5L1471.1 1113.2L1473.6 1116.6L1476.1 1119.8L1478.6 1122.7L1481 1125.4L1483.4 1127.9L1485.8 1130.3L1488.2 1132.6L1490.6 1134.7L1493 1136.8L1495.5 1138.8L1497.9 1140.8L1500.5 1142.8L1503.1 1145L1505.8 1147.1L1508.5 1149L1511.2 1150.9L1514 1152.7L1516.7 1154.4L1519.4 1156.1L1522.1 1157.8L1524.7 1159.4L1527.3 1161L1529.8 1162.6L1532.4 1164.3Z"/><ellipse cx="1677.2" cy="1142.6" rx="103.6" ry="95.2" transform="rotate(20 1677.2 1142.6)"/></g>
<g fill="#DDAFC6"><path d="M1645.5 1071.1L1642.5 1067.1L1639.5 1062.9L1636.3 1058.8L1633.2 1054.6L1630.1 1050.6L1627.1 1046.6L1624.2 1042.7L1621.3 1039L1618.6 1035.4L1616.1 1032.1L1613.8 1029.1L1611.7 1026.4L1610.3 1023.6L1609.1 1021.1L1608 1019L1607.1 1017.2L1606.3 1015.6L1605.7 1014.2L1605.1 1012.9L1604.5 1011.4L1604.1 1009.8L1603.7 1007.9L1603.3 1005.6L1603 1003L1602.9 1000.3L1602.9 997.3L1603.1 994.1L1603.3 990.7L1603.7 987.2L1604.1 983.5L1604.6 979.8L1605.1 976L1605.7 972.3L1606.3 968.5L1606.9 964.7L1607.5 961.1L1608.1 957.6L1608.9 954.1L1609.7 950.5L1610.6 946.9L1611.6 943.2L1612.5 939.6L1613.5 935.8L1614.5 932.1L1615.4 928.3L1616.3 924.5L1617.1 920.6L1617.8 916.8L1618.3 912.9L1618.6 909.1L1618.9 905.3L1619.2 901.6L1619.4 897.9L1619.6 894.2L1619.7 890.5L1619.8 886.8L1620 883.1L1620.1 879.5L1620.2 875.8L1620.4 872.2L1615.4 871.5L1614.6 875.1L1613.8 878.7L1613.1 882.3L1612.4 885.9L1611.6 889.5L1610.9 893.1L1610.1 896.7L1609.4 900.2L1608.5 903.7L1607.7 907.2L1606.7 910.7L1605.7 914.1L1604.7 917.5L1603.6 921L1602.4 924.4L1601.1 927.9L1599.7 931.4L1598.4 934.9L1597 938.5L1595.6 942.1L1594.2 945.8L1592.9 949.5L1591.7 953.3L1590.5 957.1L1589.5 960.8L1588.4 964.5L1587.4 968.4L1586.3 972.2L1585.3 976.1L1584.4 980L1583.5 983.9L1582.7 987.7L1582 991.5L1581.4 995.2L1580.9 998.8L1580.5 1002.3L1580.1 1005.5L1579.7 1008.3L1579.5 1011.1L1579.3 1013.9L1579.3 1016.6L1579.4 1019.3L1579.7 1022.1L1580 1024.8L1580.5 1027.6L1581.1 1030.6L1581.8 1033.7L1582.7 1037.2L1583.3 1041.3L1584.1 1045.8L1585 1050.5L1586.1 1055.3L1587.3 1060.2L1588.6 1065.1L1590 1070.1L1591.3 1075.1L1592.6 1080.1L1593.9 1084.9L1595.1 1089.6L1596.2 1094.3Z"/><path d="M1602.5 938.7L1601.3 936.6L1600.2 934.5L1599.1 932.4L1597.9 930.2L1596.8 927.9L1595.6 925.7L1594.4 923.4L1593.2 921.2L1591.8 919L1590.4 916.9L1588.9 914.9L1587.2 913L1585.4 911.3L1583.5 909.7L1581.5 908.3L1579.5 906.9L1577.4 905.7L1575.4 904.5L1573.3 903.4L1571.2 902.4L1569.2 901.5L1567.3 900.6L1565.4 899.7L1563.7 899L1561.9 898.2L1560.2 897.6L1558.5 897L1556.9 896.6L1555.3 896.2L1553.8 895.8L1552.2 895.5L1550.7 895.2L1549.2 894.9L1547.7 894.6L1546.2 894.2L1544.7 893.8L1544.3 894.9L1545.8 895.5L1547.2 896.1L1548.7 896.7L1550.1 897.3L1551.5 897.8L1552.9 898.4L1554.4 899L1555.8 899.7L1557.2 900.3L1558.7 901.1L1560.1 901.9L1561.7 902.8L1563.3 903.8L1565.1 904.9L1566.8 906L1568.7 907.1L1570.5 908.2L1572.3 909.5L1574.1 910.7L1575.8 912.1L1577.5 913.4L1579 914.9L1580.5 916.3L1581.8 917.8L1582.9 919.4L1584.1 921.2L1585.1 923L1586.2 925L1587.1 927.1L1588.1 929.3L1589.1 931.5L1590 933.8L1591 936.1L1592 938.5L1593 940.8L1594.1 943.1Z"/><path d="M1606.7 998.7L1608.2 997.2L1609.8 995.6L1611.3 994L1612.8 992.5L1614.2 991L1615.5 989.5L1616.9 988.1L1618.3 986.6L1619.8 985.3L1621.2 983.9L1622.8 982.6L1624.5 981.3L1626.3 980.1L1628.2 978.9L1630.2 977.8L1632.4 976.7L1634.6 975.6L1637 974.4L1639.4 973.2L1642 971.9L1644.6 970.6L1647.3 969.1L1650 967.6L1652.8 965.9L1655.6 964.3L1658.5 962.5L1661.6 960.7L1664.9 958.9L1668.2 956.9L1671.6 954.9L1674.9 952.8L1678.2 950.6L1681.4 948.3L1684.4 945.9L1687.3 943.4L1689.9 940.8L1692.2 938.1L1694.3 935.3L1696.3 932.4L1698.2 929.5L1699.9 926.5L1701.5 923.4L1702.9 920.4L1704.2 917.3L1705.3 914.2L1706.2 911.2L1707 908.2L1707.6 905.2L1708 902.3L1708 899.3L1707.8 896.4L1707.4 893.6L1706.9 890.8L1706.3 888.2L1705.6 885.5L1704.8 882.9L1704.1 880.3L1703.4 877.7L1702.8 875.1L1702.3 872.5L1700.8 872.6L1700.9 875.3L1701.1 878.1L1701.4 880.8L1701.7 883.5L1702.1 886.2L1702.3 888.8L1702.5 891.4L1702.6 894L1702.6 896.6L1702.3 899L1701.9 901.4L1701.2 903.8L1700.4 906.3L1699.5 908.9L1698.3 911.5L1697.1 914.1L1695.7 916.8L1694.1 919.4L1692.5 922L1690.7 924.5L1688.8 927L1686.8 929.3L1684.8 931.6L1682.6 933.7L1680.4 935.7L1677.9 937.7L1675.2 939.7L1672.2 941.7L1669.2 943.6L1666 945.5L1662.7 947.4L1659.4 949.2L1656.2 950.9L1653 952.6L1649.9 954.2L1647 955.8L1644.4 957.2L1641.8 958.5L1639.3 959.6L1636.7 960.7L1634.2 961.8L1631.7 962.8L1629.3 963.8L1626.8 964.8L1624.4 965.9L1621.9 967L1619.5 968.3L1617.2 969.6L1614.9 970.9L1612.7 972.2L1610.6 973.5L1608.7 974.8L1606.8 976.2L1605 977.5L1603.2 978.8L1601.6 980L1599.9 981.3L1598.3 982.5L1596.7 983.6L1595 984.8Z"/><path d="M1754.5 1139.4L1757.4 1136.5L1760.4 1133.7L1763.5 1130.8L1766.6 1127.9L1769.8 1124.9L1773.1 1122L1776.4 1118.9L1779.6 1115.9L1782.9 1112.8L1786.1 1109.7L1789.2 1106.5L1792.2 1103.3L1795.4 1101L1798.5 1098.7L1801.6 1096.4L1804.6 1094.1L1807.6 1091.8L1810.6 1089.4L1813.5 1086.9L1816.5 1084.3L1819.4 1081.7L1822.4 1078.9L1825.3 1075.9L1828.3 1072.8L1831.4 1069.6L1834.5 1066.1L1837.6 1062.6L1840.6 1058.9L1843.7 1055.2L1846.6 1051.4L1849.6 1047.6L1852.4 1043.9L1855.2 1040.2L1858 1036.6L1860.6 1033.1L1863.1 1029.8L1865.7 1026.5L1868.2 1023.3L1870.8 1020.1L1873.2 1016.9L1875.7 1013.7L1878 1010.6L1880.3 1007.5L1882.6 1004.5L1884.7 1001.6L1886.8 998.7L1888.7 996L1890.5 993.3L1892.2 990.7L1893.8 988.3L1895.2 986L1896.5 983.7L1897.7 981.6L1898.8 979.5L1899.9 977.5L1901 975.5L1902 973.5L1903 971.5L1904.1 969.5L1905.3 967.4L1899.8 963.8L1898.3 965.7L1896.9 967.6L1895.5 969.4L1894.2 971.2L1892.9 973L1891.5 974.8L1890.1 976.6L1888.7 978.4L1887.2 980.4L1885.5 982.3L1883.8 984.4L1881.9 986.6L1879.8 989L1877.6 991.4L1875.3 993.9L1872.9 996.5L1870.4 999.2L1867.8 1001.9L1865.1 1004.7L1862.4 1007.5L1859.6 1010.4L1856.8 1013.3L1854 1016.3L1851.1 1019.2L1848.1 1022.3L1845 1025.5L1841.8 1028.7L1838.6 1032L1835.4 1035.4L1832.2 1038.7L1828.9 1042L1825.7 1045.1L1822.5 1048.2L1819.3 1051L1816.2 1053.7L1813.2 1056.1L1810.2 1058.3L1807.2 1060.3L1804.3 1062.2L1801.4 1064L1798.5 1065.7L1795.5 1067.3L1792.6 1068.9L1789.5 1070.4L1786.4 1071.9L1783.3 1073.4L1780 1075L1776.6 1076.6L1772.8 1077.3L1769 1077.9L1765.2 1078.5L1761.2 1079L1757.1 1079.6L1753 1080.2L1748.8 1080.7L1744.6 1081.3L1740.3 1082L1735.9 1082.6L1731.4 1083.3L1727.1 1084Z"/><path d="M1904.8 966.9L1904.3 966.2L1903.8 965.5L1903.4 964.7L1902.9 963.9L1902.5 963.1L1902 962.3L1901.5 961.5L1901 960.7L1900.4 959.9L1899.8 959.1L1899.1 958.4L1898.3 957.7L1897.5 957.2L1896.7 956.7L1895.8 956.3L1895 956L1894.1 955.7L1893.2 955.5L1892.4 955.3L1891.5 955.1L1890.7 954.9L1889.9 954.7L1889 954.4L1888.2 954.2L1887.8 955.2L1888.5 955.6L1889.3 956.1L1890.1 956.5L1890.8 956.9L1891.6 957.3L1892.4 957.7L1893.1 958.1L1893.7 958.5L1894.4 958.9L1894.9 959.4L1895.4 959.9L1895.9 960.4L1896.3 960.9L1896.7 961.5L1897.1 962.1L1897.4 962.8L1897.8 963.5L1898.1 964.3L1898.5 965.1L1898.8 966L1899.2 966.8L1899.5 967.7L1899.9 968.6L1900.4 969.4Z"/><path d="M1902.9 970.7L1903.6 970.2L1904.3 969.7L1905 969.2L1905.7 968.6L1906.3 968.2L1906.9 967.7L1907.5 967.2L1908.1 966.8L1908.7 966.4L1909.3 966.1L1909.9 965.8L1910.5 965.5L1911.1 965.2L1911.7 965L1912.4 964.7L1913.1 964.5L1913.9 964.3L1914.7 964.2L1915.5 964L1916.3 963.9L1917.2 963.7L1918 963.6L1918.9 963.4L1919.7 963.2L1919.6 962.2L1918.8 962.1L1918 962L1917.1 961.8L1916.3 961.7L1915.5 961.6L1914.6 961.4L1913.8 961.3L1912.9 961.3L1912 961.2L1911.1 961.2L1910.1 961.2L1909.2 961.3L1908.3 961.6L1907.4 961.9L1906.6 962.2L1905.7 962.6L1905 963L1904.2 963.4L1903.5 963.8L1902.7 964.2L1902 964.6L1901.3 965L1900.7 965.3L1900 965.6Z"/><path d="M1857.2 1037.2L1859 1035.8L1860.7 1034.4L1862.5 1033L1864.1 1031.6L1865.7 1030.2L1867.4 1028.9L1869 1027.6L1870.6 1026.3L1872.2 1025.1L1873.9 1024L1875.6 1022.9L1877.5 1021.8L1879.5 1020.8L1881.6 1019.8L1883.6 1018.9L1885.7 1018L1887.8 1017.1L1890 1016.2L1892.2 1015.5L1894.5 1014.7L1896.9 1014.1L1899.5 1013.5L1902.1 1012.9L1904.9 1012.5L1907.9 1012.1L1911 1011.8L1914.3 1011.6L1917.8 1011.5L1921.5 1011.4L1925.2 1011.4L1929 1011.4L1932.8 1011.4L1936.6 1011.5L1940.5 1011.5L1944.3 1011.5L1948 1011.4L1948 1004.9L1944.4 1004.7L1940.6 1004.6L1936.9 1004.4L1933 1004.2L1929.2 1004L1925.4 1003.8L1921.6 1003.6L1917.8 1003.5L1914.2 1003.4L1910.6 1003.4L1907.2 1003.6L1903.9 1003.8L1900.7 1004.2L1897.7 1004.7L1894.9 1005.2L1892.1 1005.8L1889.5 1006.5L1887 1007.3L1884.5 1008.1L1882.1 1008.9L1879.8 1009.8L1877.6 1010.7L1875.3 1011.7L1873.1 1012.6L1870.8 1013.6L1868.6 1014.7L1866.5 1015.8L1864.4 1017L1862.4 1018.2L1860.5 1019.4L1858.7 1020.7L1856.9 1021.9L1855.1 1023L1853.3 1024.2L1851.6 1025.3L1849.8 1026.4Z"/><path d="M1829.2 1075L1831.4 1075.5L1833.5 1076L1835.5 1076.5L1837.5 1077L1839.5 1077.4L1841.5 1077.9L1843.6 1078.4L1845.7 1078.9L1847.9 1079.5L1850.3 1080.1L1852.8 1080.8L1855.4 1081.6L1858.2 1082.5L1861.2 1083.6L1864.3 1084.7L1867.5 1085.9L1870.9 1087.1L1874.3 1088.3L1877.9 1089.6L1881.5 1090.9L1885.1 1092.1L1888.8 1093.4L1892.5 1094.5L1896.2 1095.6L1900 1096.6L1903.8 1097.5L1907.7 1098.4L1911.6 1099.3L1915.5 1100.2L1919.5 1101L1923.5 1101.8L1927.5 1102.6L1931.5 1103.4L1935.5 1104.2L1939.5 1105.1L1943.5 1105.9L1943.8 1104.5L1940 1103.3L1936.1 1102.1L1932.2 1101L1928.2 1099.8L1924.3 1098.6L1920.4 1097.5L1916.5 1096.3L1912.7 1095.1L1908.9 1093.9L1905.2 1092.6L1901.6 1091.4L1898 1090.1L1894.5 1088.7L1891 1087.3L1887.5 1085.9L1884 1084.4L1880.6 1082.8L1877.2 1081.3L1873.9 1079.8L1870.7 1078.2L1867.6 1076.8L1864.5 1075.4L1861.6 1074L1858.8 1072.8L1856.2 1071.6L1853.8 1070.5L1851.6 1069.4L1849.4 1068.4L1847.4 1067.5L1845.5 1066.6L1843.6 1065.7L1841.7 1064.8L1839.9 1064L1838 1063.1L1836.1 1062.2L1834.1 1061.3Z"/><path d="M1723.1 1195.4L1726.3 1198.2L1729.5 1201.1L1732.8 1204L1736.1 1206.9L1739.3 1209.8L1742.5 1212.7L1745.7 1215.5L1748.9 1218.3L1752 1221L1755 1223.6L1757.9 1226.2L1760.8 1228.7L1763.3 1231.3L1765.7 1233.8L1768 1236.3L1770.3 1238.6L1772.5 1240.9L1774.7 1243.1L1776.8 1245.4L1778.9 1247.6L1781 1249.8L1783.1 1252.1L1785.2 1254.5L1787.2 1256.8L1788.8 1259L1790.2 1261.3L1791.6 1263.9L1793 1266.7L1794.5 1269.7L1796.2 1272.9L1798 1276.2L1800 1279.7L1802.3 1283.3L1805 1286.8L1808 1290.3L1811.5 1293.7L1815.2 1296.8L1819.2 1299.8L1823.4 1302.8L1827.9 1305.8L1832.5 1308.6L1837.2 1311.4L1841.9 1314.1L1846.7 1316.7L1851.4 1319.2L1856 1321.4L1860.5 1323.5L1864.8 1325.5L1868.9 1327.3L1873 1328.9L1877.1 1330.3L1881.1 1331.5L1885 1332.6L1888.9 1333.6L1892.6 1334.5L1896.3 1335.3L1899.9 1336.1L1903.4 1336.8L1906.9 1337.6L1910.2 1338.4L1913.6 1339.2L1916.8 1340L1920 1340.7L1923.2 1341.4L1926.2 1342L1929.3 1342.6L1932.3 1343.2L1935.2 1343.8L1938.2 1344.3L1941.2 1344.9L1944.2 1345.5L1947.2 1346.1L1948.8 1339.8L1945.8 1338.9L1942.9 1338L1940 1337.1L1937.1 1336.2L1934.2 1335.4L1931.3 1334.5L1928.4 1333.6L1925.4 1332.7L1922.4 1331.7L1919.4 1330.8L1916.3 1329.7L1913.1 1328.6L1909.7 1327.4L1906.3 1326.3L1902.8 1325.2L1899.4 1324.1L1895.9 1322.9L1892.4 1321.8L1888.9 1320.5L1885.4 1319.1L1881.9 1317.7L1878.4 1316.1L1874.8 1314.4L1871.3 1312.5L1867.6 1310.2L1863.6 1307.8L1859.5 1305.1L1855.3 1302.3L1851 1299.5L1846.8 1296.5L1842.8 1293.5L1838.9 1290.4L1835.2 1287.4L1831.8 1284.4L1828.9 1281.5L1826.4 1278.8L1824.5 1276.3L1822.9 1273.9L1821.6 1271.4L1820.4 1268.8L1819.3 1266.1L1818.3 1263.2L1817.3 1260.2L1816.3 1257.1L1815.2 1253.7L1813.9 1250.2L1812.4 1246.6L1810.7 1243L1809.3 1239.6L1807.9 1236.5L1806.6 1233.4L1805.3 1230.4L1803.9 1227.4L1802.6 1224.4L1801.2 1221.4L1799.7 1218.3L1798.3 1215.3L1796.8 1212.2L1795.2 1209L1793.5 1205.7L1792 1202L1790.4 1198.2L1788.8 1194.4L1787.1 1190.5L1785.4 1186.5L1783.6 1182.6L1781.8 1178.6L1780 1174.6L1778.2 1170.7L1776.4 1166.7L1774.7 1162.8L1773 1159Z"/><path d="M1858.3 1319.9L1860.3 1319.4L1862.3 1318.9L1864.3 1318.5L1866.4 1318L1868.4 1317.5L1870.5 1317L1872.6 1316.5L1874.8 1316L1877 1315.4L1879.2 1314.8L1881.5 1314.1L1883.8 1313.3L1886.1 1312.6L1888.5 1311.8L1890.9 1311L1893.3 1310.1L1895.8 1309.2L1898.3 1308.3L1900.7 1307.4L1903.2 1306.4L1905.7 1305.4L1908.1 1304.4L1910.6 1303.4L1913 1302.3L1915.4 1301.3L1917.7 1300.1L1920.1 1299L1922.4 1297.8L1924.8 1296.6L1927.1 1295.4L1929.4 1294.2L1931.7 1293L1934 1291.8L1936.3 1290.6L1938.6 1289.4L1940.9 1288.2L1939.1 1284.2L1936.7 1285.2L1934.3 1286.2L1931.9 1287.2L1929.5 1288.2L1927 1289.2L1924.7 1290.1L1922.3 1291.1L1919.9 1292.1L1917.5 1293L1915.1 1293.9L1912.7 1294.7L1910.3 1295.6L1907.9 1296.4L1905.5 1297.3L1903 1298.1L1900.5 1298.9L1898 1299.7L1895.6 1300.4L1893.1 1301.1L1890.7 1301.8L1888.3 1302.5L1885.9 1303.1L1883.6 1303.7L1881.4 1304.2L1879.2 1304.6L1877 1304.9L1874.9 1305.2L1872.8 1305.5L1870.8 1305.7L1868.7 1305.9L1866.6 1306.1L1864.5 1306.2L1862.4 1306.4L1860.3 1306.6L1858.1 1306.8L1856 1307.1Z"/><path d="M1941.1 1288.3L1941.1 1287.5L1941.1 1286.8L1941.2 1286L1941.2 1285.2L1941.3 1284.4L1941.3 1283.7L1941.3 1282.9L1941.4 1282.1L1941.4 1281.4L1941.4 1280.6L1941.4 1279.9L1941.5 1279.1L1941.4 1278.4L1941.4 1277.7L1941.4 1277L1941.4 1276.3L1941.3 1275.6L1941.3 1275L1941.3 1274.3L1941.2 1273.7L1941.2 1273L1941.2 1272.3L1941.1 1271.7L1941.1 1271L1940.4 1270.9L1940.2 1271.6L1940.1 1272.2L1939.9 1272.9L1939.8 1273.5L1939.6 1274.2L1939.5 1274.8L1939.3 1275.5L1939.2 1276.1L1939 1276.8L1938.9 1277.4L1938.7 1278.1L1938.6 1278.8L1938.4 1279.5L1938.3 1280.2L1938.1 1281L1938 1281.7L1937.8 1282.5L1937.7 1283.2L1937.5 1284L1937.4 1284.7L1937.2 1285.5L1937.1 1286.3L1936.9 1287L1936.7 1287.8Z"/><path d="M1937.4 1288.2L1937.9 1288.6L1938.4 1288.9L1939 1289.2L1939.5 1289.5L1940 1289.8L1940.5 1290.1L1941 1290.4L1941.5 1290.6L1941.9 1290.9L1942.3 1291.2L1942.6 1291.5L1942.9 1291.7L1943.3 1292L1943.6 1292.3L1943.9 1292.6L1944.2 1293L1944.4 1293.4L1944.7 1293.8L1945 1294.3L1945.3 1294.7L1945.5 1295.2L1945.8 1295.7L1946.1 1296.2L1946.4 1296.6L1947.4 1296.2L1947.3 1295.7L1947.2 1295.2L1947.2 1294.6L1947.1 1294.1L1947 1293.6L1946.9 1293L1946.8 1292.4L1946.7 1291.9L1946.5 1291.3L1946.4 1290.7L1946.1 1290.1L1945.8 1289.5L1945.4 1288.9L1945 1288.4L1944.5 1287.9L1944.1 1287.4L1943.6 1287L1943.1 1286.6L1942.6 1286.1L1942.2 1285.7L1941.7 1285.4L1941.3 1285L1940.9 1284.6L1940.5 1284.2Z"/><path d="M1791.9 1258.9L1791.3 1262.9L1790.6 1267L1790 1271.2L1789.3 1275.4L1788.6 1279.7L1787.9 1283.9L1787.2 1288.1L1786.6 1292.2L1786 1296.2L1785.5 1300L1785.1 1303.7L1784.8 1307.2L1784.5 1310.3L1784.3 1313.2L1784.1 1316L1784.1 1318.5L1784 1321L1784.1 1323.3L1784.1 1325.6L1784.3 1327.9L1784.4 1330.2L1784.6 1332.5L1784.9 1334.9L1785.1 1337.4L1785.5 1340.1L1785.9 1342.8L1786.3 1345.6L1786.8 1348.4L1787.3 1351.3L1787.8 1354.1L1788.4 1356.9L1789 1359.7L1789.7 1362.5L1790.4 1365.2L1791 1367.9L1791.8 1370.5L1792.5 1373L1793.4 1375.5L1794.2 1377.9L1795.1 1380.3L1796 1382.6L1797 1384.9L1797.9 1387.1L1798.9 1389.4L1799.8 1391.6L1800.8 1393.9L1801.7 1396.1L1802.6 1398.4L1804 1398L1803.4 1395.6L1802.9 1393.2L1802.2 1390.8L1801.6 1388.4L1801 1386.1L1800.4 1383.7L1799.8 1381.4L1799.3 1379L1798.8 1376.6L1798.3 1374.2L1797.8 1371.7L1797.4 1369.2L1797 1366.6L1796.7 1364L1796.3 1361.3L1796 1358.5L1795.7 1355.8L1795.4 1353L1795.2 1350.2L1795 1347.4L1794.8 1344.7L1794.7 1342L1794.6 1339.4L1794.6 1336.8L1794.6 1334.4L1794.6 1332.1L1794.6 1329.9L1794.7 1327.8L1794.8 1325.7L1795 1323.7L1795.2 1321.6L1795.4 1319.4L1795.7 1317.1L1796.1 1314.6L1796.6 1311.9L1797.1 1308.9L1797.8 1305.8L1798.6 1302.4L1799.6 1298.8L1800.6 1295.1L1801.7 1291.2L1802.8 1287.2L1803.9 1283.1L1805.1 1279L1806.3 1274.8L1807.4 1270.7L1808.6 1266.6L1809.7 1262.7Z"/><path d="M1647.5 1206.6L1646.9 1211.4L1646.3 1216.4L1645.8 1221.3L1645.3 1226.2L1644.9 1230.9L1644.5 1235.4L1644.2 1239.9L1643.8 1244.1L1643.5 1248.2L1643.2 1252L1642.9 1255.5L1642.6 1258.9L1641.3 1261.5L1640.1 1264.1L1638.8 1266.5L1637.5 1268.7L1636.1 1270.9L1634.7 1273L1633.2 1275.1L1631.6 1277.3L1629.9 1279.4L1628 1281.6L1626.1 1283.8L1624 1286.1L1621.9 1288.2L1619.8 1290.1L1617.6 1292L1615.3 1293.9L1613 1295.8L1610.6 1297.6L1608.2 1299.4L1605.6 1301.3L1602.9 1303.2L1600.2 1305.1L1597.3 1307L1594.4 1308.9L1591.4 1310.7L1588.2 1312.5L1584.7 1314.3L1581 1316.1L1577.2 1318L1573.4 1319.9L1569.4 1321.9L1565.5 1323.8L1561.7 1325.9L1558 1328.1L1554.4 1330.3L1551.1 1332.6L1548.1 1335L1545.2 1337.4L1542.5 1339.9L1539.8 1342.4L1537.3 1344.9L1535 1347.5L1532.7 1350.1L1530.6 1352.7L1528.6 1355.3L1526.8 1358L1525.1 1360.6L1523.5 1363.3L1522.1 1366.1L1520.9 1369L1520 1371.8L1519.2 1374.6L1518.7 1377.3L1518.2 1380L1517.8 1382.6L1517.5 1385.2L1517.1 1387.7L1516.8 1390.2L1516.4 1392.7L1515.9 1395.1L1522.2 1396.9L1523.1 1394.4L1523.9 1391.8L1524.6 1389.3L1525.3 1386.8L1526 1384.3L1526.7 1381.9L1527.4 1379.6L1528.3 1377.3L1529.2 1375.2L1530.2 1373.1L1531.4 1371.1L1532.8 1369.1L1534.3 1367L1536.1 1365L1537.9 1362.9L1539.9 1360.8L1542 1358.7L1544.2 1356.7L1546.6 1354.7L1549 1352.7L1551.5 1350.8L1554.2 1348.9L1556.9 1347L1559.7 1345.3L1562.6 1343.6L1565.7 1341.9L1569.1 1340.3L1572.7 1338.7L1576.5 1337.1L1580.4 1335.5L1584.3 1333.9L1588.3 1332.3L1592.3 1330.6L1596.2 1328.9L1600 1327.2L1603.6 1325.4L1607 1323.7L1610.2 1322.1L1613.3 1320.5L1616.4 1318.8L1619.4 1317.2L1622.4 1315.5L1625.3 1313.8L1628.2 1312.1L1631.1 1310.3L1633.9 1308.4L1636.7 1306.5L1639.4 1304.5L1642.2 1302.8L1644.8 1301.1L1647.5 1299.3L1650.2 1297.5L1652.9 1295.6L1655.6 1293.5L1658.3 1291.3L1661 1288.9L1663.7 1286.4L1666.4 1283.6L1669.1 1280.6L1671.8 1277.3L1675.4 1274.1L1678.9 1270.7L1682.3 1267.1L1685.6 1263.5L1688.9 1259.7L1692.1 1255.9L1695.3 1252.1L1698.4 1248.4L1701.5 1244.8L1704.5 1241.4L1707.4 1238.2L1710.5 1235Z"/><path d="M1618.6 1304.4L1617.8 1307.3L1617.1 1310.2L1616.2 1313.1L1615.4 1316L1614.5 1319L1613.7 1322L1612.8 1325L1612.1 1328L1611.4 1331L1610.8 1334.1L1610.3 1337.1L1610 1340.2L1609.7 1343.2L1609.7 1346.2L1609.7 1349.2L1609.8 1352.1L1610 1355L1610.3 1357.9L1610.6 1360.7L1611 1363.4L1611.4 1366.1L1611.8 1368.7L1612.1 1371.3L1612.5 1373.8L1612.8 1376.2L1613.2 1378.5L1613.6 1380.8L1614.1 1383.1L1614.6 1385.2L1615 1387.3L1615.5 1389.4L1616 1391.5L1616.5 1393.6L1617 1395.7L1617.5 1397.8L1617.9 1399.9L1620.8 1399.4L1620.6 1397.2L1620.3 1395.1L1620.1 1393L1619.8 1390.8L1619.6 1388.7L1619.3 1386.6L1619.1 1384.5L1618.9 1382.3L1618.7 1380.1L1618.5 1377.9L1618.4 1375.6L1618.3 1373.2L1618.2 1370.7L1618 1368.1L1617.9 1365.5L1617.8 1362.8L1617.6 1360.1L1617.6 1357.4L1617.5 1354.7L1617.6 1352L1617.7 1349.3L1617.9 1346.6L1618.2 1344L1618.6 1341.4L1619.2 1338.8L1619.9 1336.2L1620.7 1333.5L1621.6 1330.8L1622.6 1328L1623.7 1325.3L1624.8 1322.5L1625.9 1319.6L1627.1 1316.8L1628.2 1313.9L1629.3 1310.9L1630.4 1308Z"/><path d="M1601.2 1121.3L1597.7 1123.1L1594.1 1124.9L1590.5 1126.7L1586.9 1128.6L1583.2 1130.4L1579.6 1132.2L1576.1 1134.1L1572.6 1135.9L1569.3 1137.7L1566 1139.4L1563 1141.2L1560.1 1142.8L1557.3 1143.6L1554.7 1144.4L1552.2 1145.1L1549.9 1145.8L1547.5 1146.5L1545.3 1147.2L1543 1147.9L1540.8 1148.5L1538.5 1149.3L1536.2 1150L1533.8 1150.8L1531.3 1151.6L1528.6 1152.2L1525.9 1153L1523.3 1153.8L1520.9 1154.6L1518.6 1155.3L1516.4 1156.1L1514.2 1156.8L1512.1 1157.4L1510.1 1157.9L1508 1158.4L1506 1158.8L1503.8 1159L1501.5 1159.3L1499.1 1159.6L1496.6 1159.8L1493.9 1159.9L1491.2 1159.9L1488.4 1159.9L1485.4 1159.8L1482.4 1159.7L1479.2 1159.6L1476 1159.4L1472.6 1159.2L1469.1 1159.1L1465.7 1158.9L1462.1 1158.6L1458.5 1158.3L1454.7 1157.9L1450.9 1157.6L1446.9 1157.2L1442.9 1156.7L1438.8 1156.3L1434.6 1155.9L1430.4 1155.5L1426 1155.1L1421.6 1154.7L1417 1154.4L1412.4 1154.2L1407.6 1153.9L1402.7 1153.7L1397.8 1153.4L1392.8 1153.2L1387.8 1152.9L1382.8 1152.7L1377.8 1152.5L1372.7 1152.2L1367.8 1152L1362.8 1151.7L1362.6 1153.9L1367.4 1154.8L1372.3 1155.7L1377.3 1156.6L1382.2 1157.5L1387.2 1158.4L1392.1 1159.3L1397 1160.2L1401.9 1161.1L1406.6 1162L1411.3 1162.9L1415.8 1163.9L1420.2 1164.8L1424.5 1165.6L1428.7 1166.5L1432.8 1167.4L1436.9 1168.3L1440.9 1169.2L1444.8 1170.1L1448.7 1171L1452.5 1171.8L1456.2 1172.7L1459.9 1173.5L1463.6 1174.2L1467.1 1174.9L1470.6 1175.6L1473.9 1176.3L1477.1 1176.9L1480.3 1177.5L1483.4 1178.2L1486.5 1178.7L1489.6 1179.2L1492.7 1179.7L1495.8 1180.1L1498.9 1180.4L1502 1180.7L1505.1 1180.8L1508.4 1180.6L1511.5 1180.3L1514.5 1179.8L1517.3 1179.3L1520 1178.7L1522.6 1178.1L1525.1 1177.5L1527.4 1176.9L1529.6 1176.4L1531.7 1175.9L1533.8 1175.5L1535.9 1175.1L1538.1 1175.1L1540.3 1175.1L1542.5 1175.1L1544.7 1175.2L1546.9 1175.2L1549.1 1175.3L1551.5 1175.3L1553.9 1175.4L1556.5 1175.4L1559.2 1175.3L1562.1 1175.3L1565.2 1175.2L1568.6 1175.8L1572.1 1176.5L1575.8 1177.1L1579.6 1177.7L1583.5 1178.3L1587.5 1178.9L1591.5 1179.4L1595.5 1180L1599.6 1180.5L1603.6 1181.1L1607.5 1181.6L1611.4 1182.2Z"/><path d="M1506.2 1161L1503.5 1161.8L1500.9 1162.6L1498.3 1163.4L1495.7 1164.1L1493 1164.9L1490.4 1165.7L1487.7 1166.5L1485 1167.3L1482.2 1168.1L1479.4 1169L1476.6 1169.9L1473.8 1170.8L1471 1171.7L1468.2 1172.4L1465.3 1173.2L1462.3 1174L1459.2 1174.8L1456.1 1175.6L1452.9 1176.6L1449.6 1177.6L1446.4 1178.9L1443.1 1180.2L1439.9 1181.8L1436.6 1183.6L1433.4 1185.7L1430.3 1188L1427.2 1190.5L1424.2 1193.1L1421.2 1195.8L1418.2 1198.5L1415.3 1201.3L1412.4 1204.1L1409.5 1206.9L1406.6 1209.5L1403.7 1212.1L1400.7 1214.5L1397.8 1217L1394.8 1219.4L1391.8 1221.8L1388.7 1224.1L1385.7 1226.4L1382.6 1228.8L1379.5 1231.1L1376.5 1233.4L1373.4 1235.7L1370.3 1238.1L1367.2 1240.4L1364.1 1242.7L1364.9 1243.9L1368.2 1241.9L1371.6 1240L1374.9 1238L1378.2 1236L1381.5 1234.1L1384.9 1232.1L1388.2 1230.1L1391.5 1228.1L1394.8 1226.1L1398.1 1224L1401.4 1221.9L1404.7 1219.8L1407.9 1217.5L1411.2 1215L1414.4 1212.5L1417.5 1209.9L1420.7 1207.4L1423.8 1204.8L1426.8 1202.4L1429.8 1200L1432.8 1197.8L1435.8 1195.8L1438.7 1194.1L1441.5 1192.5L1444.3 1191.2L1447.2 1190.1L1450.1 1189.1L1453 1188.3L1455.9 1187.6L1458.9 1186.9L1461.8 1186.3L1464.9 1185.8L1467.9 1185.3L1470.9 1184.7L1474 1184.1L1477 1183.5L1479.9 1183L1482.7 1182.5L1485.5 1182.1L1488.2 1181.7L1490.9 1181.3L1493.6 1181L1496.3 1180.6L1499 1180.3L1501.8 1179.9L1504.5 1179.6L1507.3 1179.2L1510.1 1178.8Z"/><path d="M1542.1 1146.4L1539.1 1145.1L1536.1 1143.9L1533.2 1142.7L1530.2 1141.5L1527.4 1140.4L1524.5 1139.3L1521.8 1138.1L1519 1136.9L1516.3 1135.7L1513.7 1134.4L1511.1 1133.1L1508.5 1131.6L1506 1129.9L1503.5 1128.2L1501.1 1126.4L1498.7 1124.7L1496.4 1123L1494.1 1121.1L1491.8 1119.2L1489.5 1117.1L1487.1 1114.8L1484.7 1112.3L1482.3 1109.6L1479.7 1106.6L1477.2 1103.3L1474.5 1099.7L1471.8 1095.7L1469 1091.4L1466.2 1087L1463.4 1082.4L1460.5 1077.8L1457.6 1073.1L1454.7 1068.4L1451.8 1063.8L1448.9 1059.3L1446.1 1055L1443.2 1050.9L1440.4 1046.6L1437.5 1042.3L1434.6 1038.1L1431.6 1033.8L1428.7 1029.6L1425.9 1025.5L1423 1021.6L1420.2 1017.8L1417.5 1014.3L1414.8 1011L1412.2 1008.1L1409.6 1005.4L1407.2 1003L1404.8 1000.9L1402.4 999L1400.2 997.3L1397.9 995.8L1395.8 994.4L1393.6 993.1L1391.6 991.9L1389.5 990.8L1387.5 989.6L1385.5 988.4L1383.5 987.3L1381.5 986.2L1379.5 985.3L1377.6 984.4L1375.7 983.6L1373.9 982.9L1372.1 982.2L1370.2 981.5L1368.4 980.8L1366.6 980.1L1364.8 979.3L1363 978.6L1362.5 979.5L1364.2 980.5L1366 981.5L1367.7 982.4L1369.5 983.2L1371.2 984.1L1372.9 985L1374.6 985.9L1376.4 986.9L1378.1 987.9L1379.9 989L1381.7 990.2L1383.6 991.5L1385.5 992.8L1387.4 994.1L1389.4 995.5L1391.3 996.8L1393.2 998.2L1395.2 999.6L1397.2 1001.2L1399.2 1002.9L1401.3 1004.8L1403.4 1006.9L1405.5 1009.2L1407.8 1011.9L1410.1 1014.8L1412.6 1018.1L1415.1 1021.6L1417.7 1025.4L1420.3 1029.3L1423 1033.5L1425.7 1037.7L1428.5 1042L1431.2 1046.4L1434 1050.8L1436.7 1055.1L1439.3 1059.4L1441.9 1063.7L1444.6 1068.2L1447.2 1072.8L1449.9 1077.6L1452.5 1082.4L1455.2 1087.2L1457.9 1092L1460.5 1096.6L1463.2 1101.1L1465.8 1105.4L1468.5 1109.5L1471.1 1113.2L1473.6 1116.6L1476.1 1119.8L1478.6 1122.7L1481 1125.4L1483.4 1127.9L1485.8 1130.3L1488.2 1132.6L1490.6 1134.7L1493 1136.8L1495.5 1138.8L1497.9 1140.8L1500.5 1142.8L1503.1 1145L1505.8 1147.1L1508.5 1149L1511.2 1150.9L1514 1152.7L1516.7 1154.4L1519.4 1156.1L1522.1 1157.8L1524.7 1159.4L1527.3 1161L1529.8 1162.6L1532.4 1164.3Z"/><ellipse cx="1677.2" cy="1142.6" rx="103.6" ry="95.2" transform="rotate(20 1677.2 1142.6)"/></g>
<path d="M 1620.8 1042.7 C 1642.6 1053.6 1671.7 1059 1689.9 1057.2 C 1657.2 1068.1 1620.8 1089.9 1599 1111.7 C 1613.6 1086.3 1617.2 1064.5 1620.8 1042.7 Z" fill="#E7C3D5" opacity=".55"/>
<circle cx="1671.7" cy="1139.7" r="42.9" fill="#9E3F6C"/>
<circle cx="1670.7" cy="1136.2" r="39.3" fill="#B4537E"/>
<ellipse cx="1649.9" cy="1117.2" rx="6" ry="3.2" transform="rotate(-40 1649.9 1117.2)" fill="#D691B3"/>
<text x="1250.4" y="1470" font-size="108" fill="#9A73AB" font-weight="bold" textLength="824.7" lengthAdjust="spacingAndGlyphs" >Neuron damage</text>
<text x="1465.5" y="838.5" font-size="106" fill="#9A73AB" font-weight="bold" textLength="421" lengthAdjust="spacingAndGlyphs" >Hypoxia</text>
<defs><filter id="ts" x="-5%" y="-5%" width="110%" height="110%"><feGaussianBlur in="SourceAlpha" stdDeviation="2"/><feOffset dx="2" dy="2.5"/><feComponentTransfer><feFuncA type="linear" slope=".3"/></feComponentTransfer><feMerge><feMergeNode/><feMergeNode in="SourceGraphic"/></feMerge></filter></defs>
<path id="cp1" d="M1131.4 1425.1L1129.5 1422.3L1127.4 1419.5L1125.4 1416.6L1123.4 1413.8L1121.5 1410.9L1119.5 1408L1117.6 1405.1L1115.6 1402.2L1113.7 1399.3L1111.8 1396.3L1109.9 1393.4L1108.1 1390.4L1106.2 1387.4L1104.4 1384.4L1102.5 1381.4L1100.7 1378.4L1099 1375.3L1097.2 1372.2L1095.5 1369.1L1094 1366L1092.5 1362.8L1091.1 1359.6L1089.6 1356.4L1088.2 1353.2L1086.8 1350L1085.4 1346.7L1084 1343.5L1082.7 1340.3L1081.3 1337L1080 1333.7L1078.7 1330.4L1077.5 1327.1L1076.2 1323.8L1074.9 1320.5L1073.7 1317.2L1072.5 1313.8L1071.3 1310.5L1070.2 1307.1L1069 1303.8L1068 1300.4L1067.2 1296.9L1066.4 1293.5L1065.7 1290L1064.9 1286.6L1064.2 1283.1L1063.5 1279.7L1062.9 1276.2L1062.2 1272.7L1061.6 1269.2L1061 1265.7L1060.4 1262.3L1059.8 1258.8L1059.2 1255.3L1058.7 1251.8L1058.2 1248.2L1057.7 1244.7L1057.2 1241.2L1056.8 1237.7L1056.3 1234.2L1055.9 1230.6L1055.5 1227.1L1055.2 1223.6L1054.8 1220L1054.5 1216.5L1054.2 1213L1053.9 1209.4L1053.6 1205.9L1053.4 1202.3L1053.2 1198.8L1053 1195.2L1053 1191.6L1053 1188.1L1053.1 1184.5L1053.1 1181L1053.2 1177.4L1053.3 1173.9L1053.4 1170.3L1053.6 1166.7L1053.7 1163.2L1053.9 1159.6L1054.1 1156.1L1054.3 1152.5L1054.6 1149L1054.9 1145.4L1055.1 1141.9L1055.4 1138.3L1055.8 1134.8L1056.1 1131.3L1056.5 1127.7L1056.9 1124.2L1057.3 1120.6L1057.7 1117.1L1058.2 1113.6L1058.6 1110.1L1059.1 1106.5L1059.7 1103L1060.2 1099.5L1060.7 1096L1061.3 1092.5L1061.9 1088.9L1062.5 1085.4L1063.2 1081.9L1063.8 1078.4L1064.5 1074.9L1065.2 1071.5L1065.9 1068L1066.6 1064.5L1067.4 1061L1068.2 1057.5L1069 1054.1L1069.8 1050.6L1070.6 1047.1L1071.5 1043.7L1072.4 1040.2L1073.3 1036.8L1074.2 1033.3L1075.1 1029.9L1076.1 1026.5L1077.1 1023L1078.1 1019.6L1079.1 1016.2L1080.1 1012.8L1081.2 1009.4L1082.2 1006L1083.3 1002.6L1084.5 999.2L1085.6 995.8L1086.7 992.5L1087.9 989.1L1089.1 985.8L1090.4 982.4L1091.6 979.1L1092.9 975.8L1094.3 972.5L1095.6 969.2L1096.9 965.9L1098.3 962.6L1099.7 959.3L1101.1 956L1102.5 952.8L1104 949.5L1105.4 946.3L1106.9 943L1108.4 939.8L1109.9 936.6L1111.5 933.4L1113 930.2L1114.6 927L1116.2 923.8L1117.8 920.6L1119.5 917.4L1121.1 914.3L1122.8 911.1L1124.5 908L1126.2 904.9L1127.9 901.8L1129.6 898.7L1131.4 895.6L1133.2 892.5L1134.9 889.4L1136.8 886.3L1138.6 883.3L1140.4 880.3L1142.3 877.2L1144.2 874.2L1146.1 871.2L1148 868.2L1149.9 865.2L1151.9 862.2L1153.8 859.3L1155.8 856.3L1157.8 853.4L1159.8 850.5L1161.9 847.5L1163.9 844.6L1166 841.7L1168.1 838.9L1170.2 836L1172.3 833.1L1174.4 830.3L1176.6 827.5L1178.8 824.6L1181 821.8L1183.2 819.1L1185.4 816.3L1187.6 813.5L1189.9 810.8L1192.1 808L1194.4 805.3L1196.7 802.6L1199 799.9L1201.3 797.2L1203.7 794.5L1206 791.9L1208.4 789.2L1210.8 786.6L1213.2 784L1215.6 781.4L1218 778.8L1220.5 776.2L1223 773.6L1225.4 771.1L1227.9 768.6L1230.4 766L1233 763.5L1235.5 761L1238 758.5L1240.5 756L1243.1 753.6L1245.6 751.1L1248.2 748.7L1250.8 746.2L1253.4 743.8L1256 741.4L1258.7 739L1261.3 736.7L1264 734.3L1266.6 732L1269.3 729.7L1272 727.3L1274.7 725.1L1277.5 722.8L1280.2 720.5L1283 718.3L1285.7 716L1288.5 713.8L1291.3 711.6L1294.1 709.5L1296.9 707.3L1299.8 705.2L1302.6 703L1305.5 700.9L1308.3 698.8L1311.2 696.7L1314.1 694.7L1317 692.6L1319.9 690.6L1322.9 688.6L1325.8 686.6L1328.8 684.6L1331.7 682.6L1334.7 680.7L1337.7 678.8L1340.7 676.9L1343.7 675L1346.7 673.1L1349.8 671.2L1352.8 669.4L1355.9 667.6L1358.9 665.8L1362 664L1365.1 662.2L1368.2 660.4L1371.3 658.7L1374.4 657L1377.5 655.3L1380.6 653.6L1383.8 652L1386.9 650.3L1390.1 648.7L1393.3 647.1L1396.5 645.5L1399.7 643.9L1402.9 642.4L1406.1 640.8L1409.3 639.4L1412.6 638.1L1415.9 636.7L1419.2 635.4L1422.5 634.1L1425.8 632.8L1429.2 631.6L1432.5 630.3L1435.8 629.1L1439.2 627.9L1442.5 626.7L1445.9 625.6L1449.2 624.4L1452.6 623.3L1456 622.2L1459.4 621.1L1462.8 620L1466.1 619L1469.5 618L1472.9 617L1476.3 616L1479.7 615L1483.2 614.1L1486.6 613.1L1490 612.2L1493.4 611.4L1496.9 610.5L1500.3 609.7L1503.7 608.8L1507.2 608L1510.7 607.3L1514.2 606.7L1517.6 606.1L1521.1 605.6L1524.6 605L1528.1 604.5L1531.6 604L1535.1 603.5L1538.6 603L1542.1 602.5L1545.6 602.1L1549.1 601.7L1552.6 601.3L1556.1 600.9L1559.6 600.6L1563.2 600.3L1566.7 600L1570.2 599.7L1573.7 599.4L1577.2 599.2L1580.7 599L1584.2 598.7" fill="none"/>
<text font-size="68" font-weight="bold" fill="#000" filter="url(#ts)"><textPath href="#cp1" textLength="1124.8" lengthAdjust="spacingAndGlyphs">Dopaminergic Neurons’ Susceptibility</textPath></text>
<path id="cp2" d="M1830.8 636.2L1834.1 637L1837.3 637.9L1840.6 638.7L1843.9 639.6L1847.2 640.6L1850.4 641.5L1853.7 642.4L1857 643.4L1860.2 644.4L1863.5 645.4L1866.7 646.4L1869.9 647.5L1873.2 648.6L1876.4 649.6L1879.6 650.8L1882.8 651.9L1886 653L1889.2 654.2L1892.4 655.4L1895.6 656.6L1898.8 657.8L1902 659.1L1905.1 660.3L1908.3 661.6L1911.4 662.9L1914.6 664.2L1917.7 665.6L1920.9 666.9L1924 668.3L1927.1 669.7L1930.2 671.1L1933.3 672.6L1936.4 674L1939.5 675.5L1942.5 677L1945.6 678.5L1948.7 680.1L1951.7 681.6L1954.8 683.2L1957.8 684.8L1960.8 686.4L1963.8 688L1966.8 689.6L1969.8 691.3L1972.8 693L1975.8 694.7L1978.7 696.4L1981.7 698.1L1984.6 699.9L1987.6 701.6L1990.5 703.4L1993.4 705.2L1996.3 707.1L1999.2 708.9L2002.1 710.8L2005 712.6L2007.8 714.5L2010.7 716.4L2013.5 718.4L2016.4 720.3L2019.2 722.3L2022 724.3L2024.8 726.3L2027.6 728.3L2030.3 730.3L2033.1 732.4L2035.8 734.4L2038.6 736.5L2041.3 738.6L2044 740.7L2046.7 742.9L2049.4 745L2052.1 747.2L2054.7 749.4L2057.4 751.6L2060 753.8L2062.6 756L2065.2 758.2L2067.8 760.5L2070.4 762.8L2073 765.1L2075.5 767.4L2078.1 769.7L2080.6 772.1L2083.1 774.4L2085.6 776.8L2088.1 779.2L2090.6 781.6L2093 784L2095.5 786.4L2097.9 788.9L2100.3 791.3L2102.7 793.8L2105.1 796.3L2107.5 798.8L2109.8 801.3L2112.2 803.9L2114.5 806.4L2116.8 809L2119.1 811.6L2121.4 814.2L2123.7 816.8L2125.9 819.4L2128.1 822L2130.4 824.7L2132.6 827.3L2134.8 830L2136.9 832.7L2139.1 835.4L2141.2 838.1L2143.3 840.8L2145.5 843.6L2147.5 846.3L2149.6 849.1L2151.7 851.9L2153.7 854.7L2155.7 857.5L2157.7 860.3L2159.7 863.1L2161.7 866L2163.7 868.8L2165.6 871.7L2167.5 874.6L2169.4 877.5L2171.3 880.4L2173.2 883.3L2175.1 886.2L2176.9 889.1L2178.7 892.1L2180.5 895L2182.3 898L2184.1 901L2185.8 904L2187.5 907L2189.3 910L2191 913L2192.6 916L2194.3 919.1L2195.9 922.1L2197.6 925.2L2199.2 928.3L2200.7 931.4L2202.3 934.4L2203.9 937.6L2205.4 940.7L2206.9 943.8L2208.4 946.9L2209.9 950.1L2211.3 953.2L2212.8 956.4L2214.2 959.5L2215.6 962.7L2217 965.9L2218.3 969.1L2219.7 972.3L2221 975.5L2222.3 978.7L2223.6 981.9L2224.8 985.2L2226.1 988.4L2227.3 991.6L2228.5 994.9L2229.7 998.2L2230.9 1001.4L2232 1004.7L2233.1 1008L2234.2 1011.3L2235.3 1014.6L2236.4 1017.9L2237.4 1021.2L2238.5 1024.5L2239.5 1027.8L2240.5 1031.1L2241.4 1034.5L2242.4 1037.8L2243.3 1041.2L2244.2 1044.5L2245.1 1047.9L2246 1051.2L2246.8 1054.6L2247.7 1058L2248.5 1061.4L2249.2 1064.7L2250 1068.1L2250.8 1071.5L2251.5 1074.9L2252.2 1078.3L2252.9 1081.7L2253.5 1085.1L2254.2 1088.6L2254.8 1092L2255.4 1095.4L2256 1098.8L2256.6 1102.2L2257.1 1105.7L2257.6 1109.1L2258.1 1112.5L2258.6 1116L2259.1 1119.4L2259.5 1122.9L2259.9 1126.3L2260.3 1129.8L2260.7 1133.2L2261 1136.7L2261.4 1140.1L2261.7 1143.6L2262 1147.1L2262.3 1150.5L2262.5 1154L2262.7 1157.5L2263 1160.9L2263.1 1164.4L2263.3 1167.9L2263.5 1171.3L2263.6 1174.8L2263.7 1178.3L2263.8 1181.8L2263.8 1185.2L2263.9 1188.7L2263.9 1192.2L2263.9 1195.7L2263.9 1199.1L2263.8 1202.6L2263.8 1206.1L2263.7 1209.5L2263.6 1213L2263.5 1216.5L2263.3 1220L2263.2 1223.4L2263 1226.9L2262.8 1230.4L2262.5 1233.8L2262.3 1237.3L2262 1240.8L2261.7 1244.2L2261.4 1247.7L2261.1 1251.1L2260.7 1254.6L2260.4 1258L2260 1261.5L2259.5 1264.9L2259.1 1268.4L2258.7 1271.8L2258.2 1275.3L2257.7 1278.7L2257.2 1282.1L2256.6 1285.6L2256.1 1289L2255.5 1292.4L2254.9 1295.8L2254.3 1299.2L2253.6 1302.6L2253 1306L2252.3 1309.4L2251.6 1312.8L2250.8 1316.2L2250.1 1319.6L2249.3 1323L2248.6 1326.4L2247.8 1329.8L2246.9 1333.1L2246.1 1336.5L2245.2 1339.9L2244.3 1343.2L2243.4 1346.6L2242.5 1349.9L2241.6 1353.2L2240.6 1356.6L2239.6 1359.9L2238.6 1363.2L2237.6 1366.5L2236.5 1369.8L2235.5 1373.1L2234.4 1376.4L2233.3 1379.7L2232.2 1383L2231 1386.2L2229.9 1389.5L2228.7 1392.8L2227.5 1396L2226.3 1399.2L2225 1402.5L2223.8 1405.7L2222.5 1408.9L2221.2 1412.1L2219.9 1415.3L2218.5 1418.5L2217.2 1421.7L2215.8 1424.9L2214.4 1428.1L2213 1431.2L2211.6 1434.4L2210.1 1437.5L2208.6 1440.6L2207.2 1443.8" fill="none"/>
<text font-size="66" font-weight="bold" fill="#000" filter="url(#ts)"><textPath href="#cp2" textLength="1018.9" lengthAdjust="spacingAndGlyphs">Evidence in Parkinson’s Diseases</textPath></text>
<path id="cp3" d="M1243.3 1652.5L1245.9 1655L1248.4 1657.6L1251.1 1660.1L1253.7 1662.6L1256.3 1665.1L1259 1667.5L1261.6 1670L1264.3 1672.4L1267 1674.8L1269.7 1677.2L1272.5 1679.6L1275.2 1682L1278 1684.3L1280.8 1686.7L1283.6 1689L1286.4 1691.3L1289.2 1693.6L1292 1695.8L1294.9 1698.1L1297.7 1700.3L1300.6 1702.5L1303.5 1704.8L1306.4 1706.9L1309.3 1709.1L1312.2 1711.3L1315.2 1713.4L1318.1 1715.5L1321.1 1717.6L1324.1 1719.7L1327.1 1721.7L1330.1 1723.8L1333.1 1725.8L1336.2 1727.8L1339.2 1729.8L1342.3 1731.8L1345.3 1733.7L1348.4 1735.7L1351.5 1737.6L1354.6 1739.5L1357.7 1741.4L1360.9 1743.2L1364 1745.1L1367.2 1746.9L1370.3 1748.7L1373.5 1750.5L1376.7 1752.2L1379.9 1754L1383.1 1755.7L1386.3 1757.4L1389.6 1759.1L1392.8 1760.8L1396.1 1762.4L1399.3 1764.1L1402.6 1765.7L1405.9 1767.3L1409.2 1768.8L1412.5 1770.4L1415.8 1771.9L1419.1 1773.4L1422.5 1774.9L1425.8 1776.4L1429.2 1777.9L1432.5 1779.3L1435.9 1780.7L1439.3 1782.1L1442.7 1783.5L1446 1784.8L1449.5 1786.1L1452.9 1787.5L1456.3 1788.7L1459.7 1790L1463.1 1791.3L1466.6 1792.5L1470 1793.7L1473.5 1794.9L1477 1796L1480.4 1797.2L1483.9 1798.3L1487.4 1799.4L1490.9 1800.5L1494.4 1801.6L1497.9 1802.6L1501.4 1803.6L1505 1804.6L1508.5 1805.6L1512 1806.5L1515.6 1807.5L1519.1 1808.4L1522.7 1809.3L1526.2 1810.1L1529.8 1811L1533.3 1811.8L1536.9 1812.6L1540.5 1813.4L1544.1 1814.2L1547.7 1814.9L1551.3 1815.6L1554.9 1816.3L1558.5 1817L1562.1 1817.6L1565.7 1818.3L1569.3 1818.9L1572.9 1819.5L1576.5 1820L1580.2 1820.6L1583.8 1821.1L1587.4 1821.6L1591 1822.1L1594.7 1822.5L1598.3 1822.9L1602 1823.4L1605.6 1823.7L1609.3 1824.1L1612.9 1824.5L1616.6 1824.8L1620.2 1825.1L1623.9 1825.4L1627.5 1825.6L1631.2 1825.8L1634.9 1826.1L1638.5 1826.3L1642.2 1826.4L1645.8 1826.6L1649.5 1826.7L1653.2 1826.8L1656.8 1826.9L1660.5 1826.9L1664.2 1827L1667.8 1827L1671.5 1827L1675.2 1826.9L1678.9 1826.9L1682.5 1826.8L1686.2 1826.7L1689.9 1826.6L1693.5 1826.4L1697.2 1826.3L1700.8 1826.1L1704.5 1825.9L1708.2 1825.6L1711.8 1825.4L1715.5 1825.1L1719.1 1824.8L1722.8 1824.5L1726.5 1824.2L1730.1 1823.8L1733.7 1823.4L1737.4 1823L1741 1822.6L1744.7 1822.1L1748.3 1821.6L1752 1821.1L1755.6 1820.6L1759.2 1820.1L1762.8 1819.5L1766.5 1818.9L1770.1 1818.3L1773.7 1817.7L1777.3 1817L1780.9 1816.4L1784.5 1815.7L1788.1 1815L1791.7 1814.2L1795.3 1813.5L1798.9 1812.7L1802.4 1811.9L1806 1811.1L1809.6 1810.2L1813.2 1809.4L1816.7 1808.5L1820.3 1807.6L1823.8 1806.6L1827.3 1805.7L1830.9 1804.7L1834.4 1803.7L1837.9 1802.7L1841.4 1801.6L1845 1800.6L1848.5 1799.5L1852 1798.4L1855.4 1797.3L1858.9 1796.1L1862.4 1795L1865.9 1793.8L1869.3 1792.6L1872.8 1791.4L1876.2 1790.1L1879.7 1788.8L1883.1 1787.5L1886.5 1786.2L1889.9 1784.9L1893.3 1783.6L1896.7 1782.2L1900.1 1780.8L1903.5 1779.4L1906.9 1777.9L1910.2 1776.5L1913.6 1775L1916.9 1773.5L1920.2 1772L1923.6 1770.5L1926.9 1768.9L1930.2 1767.4L1933.5 1765.8L1936.8 1764.1L1940 1762.5L1943.3 1760.9L1946.6 1759.2L1949.8 1757.5L1953 1755.8L1956.3 1754.1L1959.5 1752.3L1962.7 1750.5L1965.9 1748.7L1969 1746.9L1972.2 1745.1L1975.4 1743.3L1978.5 1741.4L1981.6 1739.5L1984.8 1737.6L1987.9 1735.7L1991 1733.8L1994 1731.8L1997.1 1729.8L2000.2 1727.8L2003.2 1725.8L2006.3 1723.8L2009.3 1721.7L2012.3 1719.7L2015.3 1717.6L2018.3 1715.5L2021.2 1713.4L2024.2 1711.2L2027.1 1709.1L2030.1 1706.9L2033 1704.7L2035.9 1702.5L2038.8 1700.3L2041.7 1698L2044.5 1695.8L2047.4 1693.5L2050.2 1691.2L2053 1688.9L2055.8 1686.6L2058.6 1684.2L2061.4 1681.9L2064.1 1679.5L2066.9 1677.1L2069.6 1674.7L2072.3 1672.3L2075 1669.8L2077.7 1667.4L2080.4 1664.9L2083 1662.4L2085.7 1659.9L2088.3 1657.4L2090.9 1654.8L2093.5 1652.3L2096.1 1649.7L2098.6 1647.1L2101.2 1644.5L2103.7 1641.9L2106.2 1639.3L2108.7 1636.7L2111.2 1634L2113.7 1631.3" fill="none"/>
<text font-size="58" font-weight="bold" fill="#000" filter="url(#ts)"><textPath href="#cp3" textLength="972" lengthAdjust="spacingAndGlyphs">Hypoxia's Role in PD Pathogenesis</textPath></text>
</svg>
</body></html>
